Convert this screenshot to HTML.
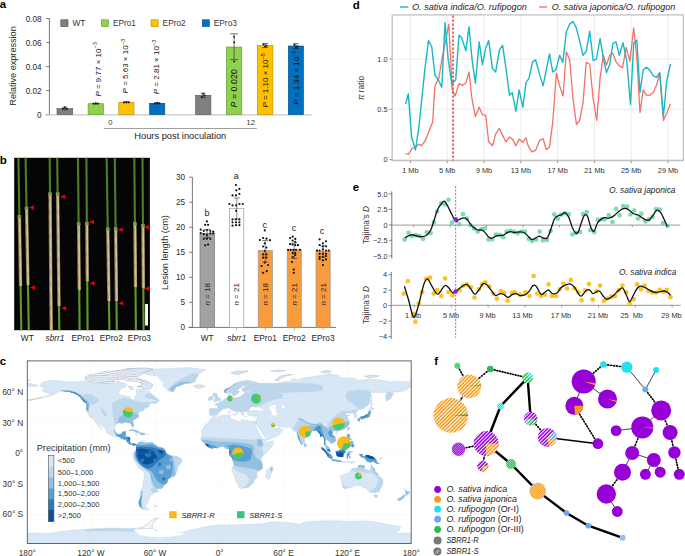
<!DOCTYPE html>
<html><head><meta charset="utf-8"><style>html,body{margin:0;padding:0;background:#fff;width:685px;height:556px;overflow:hidden;}svg{display:block;font-family:"Liberation Sans",sans-serif;}</style></head>
<body><svg width="685" height="556" viewBox="0 0 685 556" font-family="Liberation Sans, sans-serif">
<rect width="685" height="556" fill="#fff"/>
<text x="-0.3" y="8.4" font-size="11.5" text-anchor="start" fill="#000" font-weight="bold">a</text>
<line x1="49.4" y1="18.3" x2="49.4" y2="114.6" stroke="#555" stroke-width="0.8"/>
<line x1="46.199999999999996" y1="114.6" x2="49.4" y2="114.6" stroke="#555" stroke-width="0.8"/>
<text x="41.6" y="117.5" font-size="8.2" text-anchor="end" fill="#2a2a2a">0</text>
<line x1="46.199999999999996" y1="90.6" x2="49.4" y2="90.6" stroke="#555" stroke-width="0.8"/>
<text x="41.6" y="93.5" font-size="8.2" text-anchor="end" fill="#2a2a2a">0.02</text>
<line x1="46.199999999999996" y1="66.6" x2="49.4" y2="66.6" stroke="#555" stroke-width="0.8"/>
<text x="41.6" y="69.5" font-size="8.2" text-anchor="end" fill="#2a2a2a">0.04</text>
<line x1="46.199999999999996" y1="42.599999999999994" x2="49.4" y2="42.599999999999994" stroke="#555" stroke-width="0.8"/>
<text x="41.6" y="45.49999999999999" font-size="8.2" text-anchor="end" fill="#2a2a2a">0.06</text>
<line x1="46.199999999999996" y1="18.599999999999994" x2="49.4" y2="18.599999999999994" stroke="#555" stroke-width="0.8"/>
<text x="41.6" y="21.499999999999993" font-size="8.2" text-anchor="end" fill="#2a2a2a">0.08</text>
<line x1="45" y1="114.89999999999999" x2="311.5" y2="114.89999999999999" stroke="#c8c8c8" stroke-width="1.1"/>
<text x="16.0" y="66" font-size="9.1" text-anchor="middle" fill="#2a2a2a" transform="rotate(-90 16.0 66)">Relative expression</text>
<rect x="60.8" y="19.8" width="7.2" height="6.8" fill="#7f7f7f" stroke="#4d4d4d" stroke-width="0.6"/>
<text x="72.39999999999999" y="26.1" font-size="8.3" text-anchor="start" fill="#333">WT</text>
<rect x="101.3" y="19.8" width="7.2" height="6.8" fill="#8fd14f" stroke="#5b9a2e" stroke-width="0.6"/>
<text x="112.89999999999999" y="26.1" font-size="8.3" text-anchor="start" fill="#333">EPro1</text>
<rect x="151" y="19.8" width="7.2" height="6.8" fill="#ffc000" stroke="#b88a00" stroke-width="0.6"/>
<text x="162.6" y="26.1" font-size="8.3" text-anchor="start" fill="#333">EPro2</text>
<rect x="202.2" y="19.8" width="7.2" height="6.8" fill="#0070c0" stroke="#004c85" stroke-width="0.6"/>
<text x="213.79999999999998" y="26.1" font-size="8.3" text-anchor="start" fill="#333">EPro3</text>
<rect x="57" y="108.6" width="15.700000000000003" height="6.0" fill="#7f7f7f" stroke="#555" stroke-width="0.6"/>
<rect x="88.1" y="103.7" width="15.5" height="10.899999999999991" fill="#8fd14f" stroke="#5b9a2e" stroke-width="0.6"/>
<rect x="118.8" y="102.3" width="15.200000000000003" height="12.299999999999997" fill="#ffc000" stroke="#b88a00" stroke-width="0.6"/>
<rect x="149.5" y="103.3" width="15.300000000000011" height="11.299999999999997" fill="#0070c0" stroke="#004c85" stroke-width="0.6"/>
<rect x="195.6" y="95.3" width="15.300000000000011" height="19.299999999999997" fill="#7f7f7f" stroke="#555" stroke-width="0.6"/>
<rect x="226.3" y="47" width="15.5" height="67.6" fill="#8fd14f" stroke="#5b9a2e" stroke-width="0.6"/>
<rect x="257.3" y="45.5" width="15.599999999999966" height="69.1" fill="#ffc000" stroke="#b88a00" stroke-width="0.6"/>
<rect x="288.3" y="46" width="15.199999999999989" height="68.6" fill="#0070c0" stroke="#004c85" stroke-width="0.6"/>
<line x1="64.8" y1="107.2" x2="64.8" y2="109.8" stroke="#222" stroke-width="0.6"/><line x1="62.3" y1="107.2" x2="67.3" y2="107.2" stroke="#222" stroke-width="0.6"/><line x1="62.3" y1="109.8" x2="67.3" y2="109.8" stroke="#222" stroke-width="0.6"/><circle cx="62.8" cy="108.6" r="0.95" fill="#111"/><circle cx="64.8" cy="107.3" r="0.95" fill="#111"/><circle cx="66.8" cy="108.8" r="0.95" fill="#111"/>
<line x1="95.8" y1="103.2" x2="95.8" y2="104.2" stroke="#222" stroke-width="0.6"/><line x1="93.3" y1="103.2" x2="98.3" y2="103.2" stroke="#222" stroke-width="0.6"/><line x1="93.3" y1="104.2" x2="98.3" y2="104.2" stroke="#222" stroke-width="0.6"/><circle cx="93.3" cy="103.6" r="0.95" fill="#111"/><circle cx="95.8" cy="103.3" r="0.95" fill="#111"/><circle cx="98.3" cy="103.6" r="0.95" fill="#111"/>
<line x1="126.4" y1="101.8" x2="126.4" y2="102.8" stroke="#222" stroke-width="0.6"/><line x1="123.9" y1="101.8" x2="128.9" y2="101.8" stroke="#222" stroke-width="0.6"/><line x1="123.9" y1="102.8" x2="128.9" y2="102.8" stroke="#222" stroke-width="0.6"/><circle cx="123.9" cy="102.2" r="0.95" fill="#111"/><circle cx="126.4" cy="101.9" r="0.95" fill="#111"/><circle cx="128.9" cy="102.2" r="0.95" fill="#111"/>
<line x1="157.1" y1="102.6" x2="157.1" y2="104" stroke="#222" stroke-width="0.6"/><line x1="154.6" y1="102.6" x2="159.6" y2="102.6" stroke="#222" stroke-width="0.6"/><line x1="154.6" y1="104" x2="159.6" y2="104" stroke="#222" stroke-width="0.6"/><circle cx="154.6" cy="103.5" r="0.95" fill="#111"/><circle cx="157.1" cy="102.8" r="0.95" fill="#111"/><circle cx="159.6" cy="103.2" r="0.95" fill="#111"/>
<line x1="203.2" y1="93.2" x2="203.2" y2="97.6" stroke="#222" stroke-width="0.6"/><line x1="200.7" y1="93.2" x2="205.7" y2="93.2" stroke="#222" stroke-width="0.6"/><line x1="200.7" y1="97.6" x2="205.7" y2="97.6" stroke="#222" stroke-width="0.6"/><circle cx="201.7" cy="97" r="0.95" fill="#111"/><circle cx="203.2" cy="93.8" r="0.95" fill="#111"/><circle cx="204.7" cy="95.5" r="0.95" fill="#111"/>
<line x1="234.1" y1="33.8" x2="234.1" y2="59.6" stroke="#222" stroke-width="0.6"/><line x1="230.1" y1="33.8" x2="238.1" y2="33.8" stroke="#222" stroke-width="0.6"/><line x1="230.1" y1="59.6" x2="238.1" y2="59.6" stroke="#222" stroke-width="0.6"/><circle cx="234.1" cy="36.9" r="0.95" fill="#111"/><circle cx="234.1" cy="42.4" r="0.95" fill="#111"/><circle cx="234.1" cy="61.4" r="0.95" fill="#111"/>
<line x1="265.1" y1="43.5" x2="265.1" y2="47.5" stroke="#222" stroke-width="0.6"/><line x1="262.1" y1="43.5" x2="268.1" y2="43.5" stroke="#222" stroke-width="0.6"/><line x1="262.1" y1="47.5" x2="268.1" y2="47.5" stroke="#222" stroke-width="0.6"/><circle cx="263.6" cy="44.5" r="0.95" fill="#111"/><circle cx="265.1" cy="46.6" r="0.95" fill="#111"/><circle cx="266.6" cy="45.5" r="0.95" fill="#111"/>
<line x1="295.9" y1="43.6" x2="295.9" y2="48.5" stroke="#222" stroke-width="0.6"/><line x1="292.9" y1="43.6" x2="298.9" y2="43.6" stroke="#222" stroke-width="0.6"/><line x1="292.9" y1="48.5" x2="298.9" y2="48.5" stroke="#222" stroke-width="0.6"/><circle cx="294.4" cy="45" r="0.95" fill="#111"/><circle cx="295.9" cy="47.5" r="0.95" fill="#111"/><circle cx="297.4" cy="46.4" r="0.95" fill="#111"/>
<text x="100.6" y="96.6" font-size="8.0" fill="#111" transform="rotate(-90 100.6 96.6)"><tspan font-style="italic">P</tspan> = 9.77 × 10<tspan font-size="5.76" dy="-3.2">−3</tspan></text>
<text x="128.2" y="93.4" font-size="8.0" fill="#111" transform="rotate(-90 128.2 93.4)"><tspan font-style="italic">P</tspan> = 5.63 × 10<tspan font-size="5.76" dy="-3.2">−3</tspan></text>
<text x="159.3" y="94.2" font-size="8.0" fill="#111" transform="rotate(-90 159.3 94.2)"><tspan font-style="italic">P</tspan> = 2.81 × 10<tspan font-size="5.76" dy="-3.2">−3</tspan></text>
<text x="237.2" y="107.4" font-size="8.9" fill="#111" transform="rotate(-90 237.2 107.4)"><tspan font-style="italic">P</tspan> = 0.020</text>
<text x="268.1" y="107.6" font-size="8.0" fill="#111" transform="rotate(-90 268.1 107.6)"><tspan font-style="italic">P</tspan> = 1.10 × 10<tspan font-size="5.76" dy="-3.2">−5</tspan></text>
<text x="299.2" y="104.8" font-size="8.0" fill="#111" transform="rotate(-90 299.2 104.8)"><tspan font-style="italic">P</tspan> = 1.34 × 10<tspan font-size="5.76" dy="-3.2">−5</tspan></text>
<text x="110.3" y="124.6" font-size="7.6" text-anchor="middle" fill="#333">0</text>
<text x="250.8" y="124.6" font-size="7.6" text-anchor="middle" fill="#333">12</text>
<line x1="103.7" y1="128.5" x2="256.8" y2="128.5" stroke="#888" stroke-width="0.8"/>
<text x="180.3" y="139" font-size="9.3" text-anchor="middle" fill="#222">Hours post inoculation</text>
<text x="-0.3" y="163.9" font-size="11.5" text-anchor="start" fill="#000" font-weight="bold">b</text>
<rect x="14.2" y="157.8" width="135.7" height="172.4" fill="#050505"/>
<line x1="18.4" y1="157.8" x2="19.387412993039444" y2="216.5" stroke="#4a8028" stroke-width="2.1"/>
<line x1="19.387412993039444" y1="216.5" x2="20.556496519721577" y2="286" stroke="#8f7a50" stroke-width="3.3"/>
<line x1="19.587412993039443" y1="217.5" x2="20.756496519721576" y2="286" stroke="#cdc3a0" stroke-width="1.9"/>
<line x1="18.787412993039442" y1="220.5" x2="19.956496519721576" y2="286" stroke="#9a8458" stroke-width="0.7" stroke-dasharray="5 7" opacity="0.9"/>
<rect x="17.587412993039443" y="215.0" width="3.6" height="3.5" fill="#7a9a48"/>
<line x1="20.556496519721577" y1="286" x2="21.3" y2="330.2" stroke="#5f9a2e" stroke-width="2.1"/>
<line x1="25.6" y1="157.8" x2="26.531786542923435" y2="208" stroke="#4a8028" stroke-width="2.1"/>
<line x1="26.531786542923435" y1="208" x2="27.961020881670535" y2="285" stroke="#8f7a50" stroke-width="3.3"/>
<line x1="26.731786542923434" y1="209" x2="28.161020881670535" y2="285" stroke="#cdc3a0" stroke-width="1.9"/>
<line x1="25.931786542923433" y1="212" x2="27.361020881670534" y2="285" stroke="#9a8458" stroke-width="0.7" stroke-dasharray="5 7" opacity="0.9"/>
<rect x="24.731786542923434" y="206.5" width="3.6" height="3.5" fill="#7a9a48"/>
<line x1="27.961020881670535" y1="285" x2="28.8" y2="330.2" stroke="#5f9a2e" stroke-width="2.1"/>
<line x1="49.7" y1="157.8" x2="50.01322505800464" y2="193.8" stroke="#4a8028" stroke-width="2.1"/>
<line x1="50.01322505800464" y1="193.8" x2="51.2" y2="330.2" stroke="#8f7a50" stroke-width="3.3"/>
<line x1="50.213225058004646" y1="194.8" x2="51.400000000000006" y2="330.2" stroke="#cdc3a0" stroke-width="1.9"/>
<line x1="49.41322505800464" y1="197.8" x2="50.6" y2="330.2" stroke="#9a8458" stroke-width="0.7" stroke-dasharray="5 7" opacity="0.9"/>
<rect x="48.213225058004646" y="192.3" width="3.6" height="3.5" fill="#7a9a48"/>
<line x1="57.2" y1="157.8" x2="57.6385150812065" y2="193.8" stroke="#4a8028" stroke-width="2.1"/>
<line x1="57.6385150812065" y1="193.8" x2="59.00522041763341" y2="306" stroke="#8f7a50" stroke-width="3.3"/>
<line x1="57.8385150812065" y1="194.8" x2="59.20522041763341" y2="306" stroke="#cdc3a0" stroke-width="1.9"/>
<line x1="57.0385150812065" y1="197.8" x2="58.40522041763341" y2="306" stroke="#9a8458" stroke-width="0.7" stroke-dasharray="5 7" opacity="0.9"/>
<rect x="55.8385150812065" y="192.3" width="3.6" height="3.5" fill="#7a9a48"/>
<line x1="59.00522041763341" y1="306" x2="59.3" y2="330.2" stroke="#5f9a2e" stroke-width="2.1"/>
<line x1="78.0" y1="157.8" x2="78.61160092807424" y2="223.7" stroke="#4a8028" stroke-width="2.1"/>
<line x1="78.61160092807424" y1="223.7" x2="79.22691415313224" y2="290" stroke="#8f7a50" stroke-width="3.3"/>
<line x1="78.81160092807424" y1="224.7" x2="79.42691415313224" y2="290" stroke="#cdc3a0" stroke-width="1.9"/>
<line x1="78.01160092807424" y1="227.7" x2="78.62691415313225" y2="290" stroke="#9a8458" stroke-width="0.7" stroke-dasharray="5 7" opacity="0.9"/>
<rect x="76.81160092807424" y="222.2" width="3.6" height="3.5" fill="#7a9a48"/>
<line x1="79.22691415313224" y1="290" x2="79.6" y2="330.2" stroke="#5f9a2e" stroke-width="2.1"/>
<line x1="86.4" y1="157.8" x2="86.85730858468678" y2="223.5" stroke="#4a8028" stroke-width="2.1"/>
<line x1="86.85730858468678" y1="223.5" x2="87.26102088167053" y2="281.5" stroke="#8f7a50" stroke-width="3.3"/>
<line x1="87.05730858468678" y1="224.5" x2="87.46102088167054" y2="281.5" stroke="#cdc3a0" stroke-width="1.9"/>
<line x1="86.25730858468678" y1="227.5" x2="86.66102088167054" y2="281.5" stroke="#9a8458" stroke-width="0.7" stroke-dasharray="5 7" opacity="0.9"/>
<rect x="85.05730858468678" y="222.0" width="3.6" height="3.5" fill="#7a9a48"/>
<line x1="87.26102088167053" y1="281.5" x2="87.6" y2="330.2" stroke="#5f9a2e" stroke-width="2.1"/>
<line x1="106.6" y1="157.8" x2="107.75638051044083" y2="229" stroke="#4a8028" stroke-width="2.1"/>
<line x1="107.75638051044083" y1="229" x2="108.92575406032483" y2="301" stroke="#8f7a50" stroke-width="3.3"/>
<line x1="107.95638051044084" y1="230" x2="109.12575406032484" y2="301" stroke="#cdc3a0" stroke-width="1.9"/>
<line x1="107.15638051044084" y1="233" x2="108.32575406032484" y2="301" stroke="#9a8458" stroke-width="0.7" stroke-dasharray="5 7" opacity="0.9"/>
<rect x="105.95638051044084" y="227.5" width="3.6" height="3.5" fill="#7a9a48"/>
<line x1="108.92575406032483" y1="301" x2="109.4" y2="330.2" stroke="#5f9a2e" stroke-width="2.1"/>
<line x1="114.8" y1="157.8" x2="115.62134570765662" y2="228.6" stroke="#4a8028" stroke-width="2.1"/>
<line x1="115.62134570765662" y1="228.6" x2="116.46125290023201" y2="301" stroke="#8f7a50" stroke-width="3.3"/>
<line x1="115.82134570765662" y1="229.6" x2="116.66125290023201" y2="301" stroke="#cdc3a0" stroke-width="1.9"/>
<line x1="115.02134570765662" y1="232.6" x2="115.86125290023202" y2="301" stroke="#9a8458" stroke-width="0.7" stroke-dasharray="5 7" opacity="0.9"/>
<rect x="113.82134570765662" y="227.1" width="3.6" height="3.5" fill="#7a9a48"/>
<line x1="116.46125290023201" y1="301" x2="116.8" y2="330.2" stroke="#5f9a2e" stroke-width="2.1"/>
<line x1="134.3" y1="157.8" x2="134.90974477958238" y2="223.5" stroke="#4a8028" stroke-width="2.1"/>
<line x1="134.90974477958238" y1="223.5" x2="135.49907192575407" y2="287" stroke="#8f7a50" stroke-width="3.3"/>
<line x1="135.10974477958237" y1="224.5" x2="135.69907192575405" y2="287" stroke="#cdc3a0" stroke-width="1.9"/>
<line x1="134.3097447795824" y1="227.5" x2="134.89907192575407" y2="287" stroke="#9a8458" stroke-width="0.7" stroke-dasharray="5 7" opacity="0.9"/>
<rect x="133.10974477958237" y="222.0" width="3.6" height="3.5" fill="#7a9a48"/>
<line x1="135.49907192575407" y1="287" x2="135.9" y2="330.2" stroke="#5f9a2e" stroke-width="2.1"/>
<line x1="142.5" y1="157.8" x2="142.93196055684456" y2="225.5" stroke="#4a8028" stroke-width="2.1"/>
<line x1="142.93196055684456" y1="225.5" x2="143.33457076566125" y2="288.6" stroke="#8f7a50" stroke-width="3.3"/>
<line x1="143.13196055684455" y1="226.5" x2="143.53457076566124" y2="288.6" stroke="#cdc3a0" stroke-width="1.9"/>
<line x1="142.33196055684456" y1="229.5" x2="142.73457076566126" y2="288.6" stroke="#9a8458" stroke-width="0.7" stroke-dasharray="5 7" opacity="0.9"/>
<rect x="141.13196055684455" y="224.0" width="3.6" height="3.5" fill="#7a9a48"/>
<line x1="143.33457076566125" y1="288.6" x2="143.6" y2="330.2" stroke="#5f9a2e" stroke-width="2.1"/>
<polygon points="29.1,207.6 33.9,205.29999999999998 33.9,209.9" fill="#ee0000"/>
<polygon points="60.4,196.8 65.2,194.5 65.2,199.10000000000002" fill="#ee0000"/>
<polygon points="89.1,222.0 93.9,219.7 93.9,224.3" fill="#ee0000"/>
<polygon points="117.89999999999999,229.7 122.7,227.39999999999998 122.7,232.0" fill="#ee0000"/>
<polygon points="144.2,227.2 149.0,224.89999999999998 149.0,229.5" fill="#ee0000"/>
<polygon points="30.200000000000003,287.6 35.0,285.3 35.0,289.90000000000003" fill="#ee0000"/>
<polygon points="61.4,308.2 66.2,305.9 66.2,310.5" fill="#ee0000"/>
<polygon points="89.8,283.3 94.60000000000001,281.0 94.60000000000001,285.6" fill="#ee0000"/>
<polygon points="118.5,303.2 123.30000000000001,300.9 123.30000000000001,305.5" fill="#ee0000"/>
<polygon points="144.4,288.6 149.20000000000002,286.3 149.20000000000002,290.90000000000003" fill="#ee0000"/>
<rect x="145.1" y="304" width="2.9" height="21.5" fill="#fff"/>
<text x="27.3" y="341.3" font-size="8.3" text-anchor="middle" fill="#222">WT</text>
<text x="55" y="341.3" font-size="8.3" text-anchor="middle" fill="#222" font-style="italic">sbrr1</text>
<text x="83" y="341.3" font-size="8.3" text-anchor="middle" fill="#222">EPro1</text>
<text x="111.3" y="341.3" font-size="8.3" text-anchor="middle" fill="#222">EPro2</text>
<text x="139.4" y="341.3" font-size="8.3" text-anchor="middle" fill="#222">EPro3</text>
<line x1="192.4" y1="177.2" x2="192.4" y2="327.4" stroke="#555" stroke-width="0.8"/>
<line x1="189.20000000000002" y1="327.4" x2="192.4" y2="327.4" stroke="#555" stroke-width="0.8"/>
<text x="185.0" y="330.29999999999995" font-size="8.2" text-anchor="end" fill="#2a2a2a">0</text>
<line x1="189.20000000000002" y1="302.3666666666667" x2="192.4" y2="302.3666666666667" stroke="#555" stroke-width="0.8"/>
<text x="185.0" y="305.26666666666665" font-size="8.2" text-anchor="end" fill="#2a2a2a">5</text>
<line x1="189.20000000000002" y1="277.3333333333333" x2="192.4" y2="277.3333333333333" stroke="#555" stroke-width="0.8"/>
<text x="185.0" y="280.2333333333333" font-size="8.2" text-anchor="end" fill="#2a2a2a">10</text>
<line x1="189.20000000000002" y1="252.29999999999998" x2="192.4" y2="252.29999999999998" stroke="#555" stroke-width="0.8"/>
<text x="185.0" y="255.2" font-size="8.2" text-anchor="end" fill="#2a2a2a">15</text>
<line x1="189.20000000000002" y1="227.26666666666665" x2="192.4" y2="227.26666666666665" stroke="#555" stroke-width="0.8"/>
<text x="185.0" y="230.16666666666666" font-size="8.2" text-anchor="end" fill="#2a2a2a">20</text>
<line x1="189.20000000000002" y1="202.23333333333335" x2="192.4" y2="202.23333333333335" stroke="#555" stroke-width="0.8"/>
<text x="185.0" y="205.13333333333335" font-size="8.2" text-anchor="end" fill="#2a2a2a">25</text>
<line x1="189.20000000000002" y1="177.2" x2="192.4" y2="177.2" stroke="#555" stroke-width="0.8"/>
<text x="185.0" y="180.1" font-size="8.2" text-anchor="end" fill="#2a2a2a">30</text>
<line x1="188.4" y1="327.4" x2="336" y2="327.4" stroke="#666" stroke-width="0.9"/>
<line x1="207.2" y1="327.4" x2="207.2" y2="330.4" stroke="#777" stroke-width="0.6"/>
<line x1="236.6" y1="327.4" x2="236.6" y2="330.4" stroke="#777" stroke-width="0.6"/>
<line x1="265.3" y1="327.4" x2="265.3" y2="330.4" stroke="#777" stroke-width="0.6"/>
<line x1="294.2" y1="327.4" x2="294.2" y2="330.4" stroke="#777" stroke-width="0.6"/>
<line x1="323" y1="327.4" x2="323" y2="330.4" stroke="#777" stroke-width="0.6"/>
<text x="167.6" y="252.5" font-size="9.1" text-anchor="middle" fill="#2a2a2a" transform="rotate(-90 167.6 252.5)">Lesion length (cm)</text>
<rect x="200" y="233.5" width="14.5" height="93.89999999999998" fill="#a2a2a2" stroke="#777" stroke-width="0.7"/>
<rect x="229.6" y="208.3" width="14.200000000000017" height="119.09999999999997" fill="#ffffff" stroke="#9a9a9a" stroke-width="0.7"/>
<rect x="258.2" y="250.5" width="14.300000000000011" height="76.89999999999998" fill="#f89b3c" stroke="#999" stroke-width="0.7"/>
<rect x="287.2" y="249.8" width="14.100000000000023" height="77.59999999999997" fill="#f89b3c" stroke="#999" stroke-width="0.7"/>
<rect x="316.0" y="251.3" width="14.199999999999989" height="76.09999999999997" fill="#f89b3c" stroke="#999" stroke-width="0.7"/>
<circle cx="206.9" cy="221.4" r="1.1" fill="#111"/>
<circle cx="205.2" cy="224.8" r="1.1" fill="#111"/>
<circle cx="208.1" cy="224.8" r="1.1" fill="#111"/>
<circle cx="200.7" cy="229.6" r="1.1" fill="#111"/>
<circle cx="203.8" cy="230.8" r="1.1" fill="#111"/>
<circle cx="206.9" cy="230" r="1.1" fill="#111"/>
<circle cx="210.3" cy="230.8" r="1.1" fill="#111"/>
<circle cx="213.2" cy="231.7" r="1.1" fill="#111"/>
<circle cx="200.7" cy="233" r="1.1" fill="#111"/>
<circle cx="203.8" cy="234.2" r="1.1" fill="#111"/>
<circle cx="206.9" cy="235.1" r="1.1" fill="#111"/>
<circle cx="210.3" cy="233.4" r="1.1" fill="#111"/>
<circle cx="213.2" cy="233.4" r="1.1" fill="#111"/>
<circle cx="203.8" cy="238.8" r="1.1" fill="#111"/>
<circle cx="206.9" cy="238.8" r="1.1" fill="#111"/>
<circle cx="210.3" cy="238.8" r="1.1" fill="#111"/>
<circle cx="205.2" cy="245.3" r="1.1" fill="#111"/>
<circle cx="208.1" cy="244.5" r="1.1" fill="#111"/>
<circle cx="236" cy="185" r="1.1" fill="#111"/>
<circle cx="239.4" cy="188.9" r="1.1" fill="#111"/>
<circle cx="236.3" cy="190.3" r="1.1" fill="#111"/>
<circle cx="239.4" cy="194" r="1.1" fill="#111"/>
<circle cx="232.5" cy="195.4" r="1.1" fill="#111"/>
<circle cx="236" cy="195.4" r="1.1" fill="#111"/>
<circle cx="229.4" cy="204" r="1.1" fill="#111"/>
<circle cx="232.5" cy="205.3" r="1.1" fill="#111"/>
<circle cx="236" cy="205.3" r="1.1" fill="#111"/>
<circle cx="239.4" cy="204" r="1.1" fill="#111"/>
<circle cx="242.8" cy="204" r="1.1" fill="#111"/>
<circle cx="236" cy="210.8" r="1.1" fill="#111"/>
<circle cx="232.5" cy="219.4" r="1.1" fill="#111"/>
<circle cx="236" cy="219.4" r="1.1" fill="#111"/>
<circle cx="239.4" cy="219.4" r="1.1" fill="#111"/>
<circle cx="232.5" cy="222.3" r="1.1" fill="#111"/>
<circle cx="236" cy="222.3" r="1.1" fill="#111"/>
<circle cx="239.4" cy="222.3" r="1.1" fill="#111"/>
<circle cx="232.5" cy="225.7" r="1.1" fill="#111"/>
<circle cx="236" cy="225.2" r="1.1" fill="#111"/>
<circle cx="239.4" cy="225.2" r="1.1" fill="#111"/>
<circle cx="264.8" cy="230.4" r="1.1" fill="#111"/>
<circle cx="259.9" cy="240" r="1.1" fill="#111"/>
<circle cx="263.1" cy="238" r="1.1" fill="#111"/>
<circle cx="266.4" cy="238.7" r="1.1" fill="#111"/>
<circle cx="270" cy="240.2" r="1.1" fill="#111"/>
<circle cx="264.8" cy="243.3" r="1.1" fill="#111"/>
<circle cx="263.1" cy="246.5" r="1.1" fill="#111"/>
<circle cx="266.4" cy="247.6" r="1.1" fill="#111"/>
<circle cx="263.1" cy="254.4" r="1.1" fill="#111"/>
<circle cx="266.4" cy="254.4" r="1.1" fill="#111"/>
<circle cx="263.1" cy="257.7" r="1.1" fill="#111"/>
<circle cx="266.4" cy="257.7" r="1.1" fill="#111"/>
<circle cx="264.8" cy="262.6" r="1.1" fill="#111"/>
<circle cx="263.1" cy="272.8" r="1.1" fill="#111"/>
<circle cx="266.7" cy="271.2" r="1.1" fill="#111"/>
<circle cx="261.5" cy="266" r="1.1" fill="#111"/>
<circle cx="268" cy="265" r="1.1" fill="#111"/>
<circle cx="264.8" cy="251" r="1.1" fill="#111"/>
<circle cx="292.7" cy="236.7" r="1.1" fill="#111"/>
<circle cx="290.1" cy="238" r="1.1" fill="#111"/>
<circle cx="295.3" cy="238.9" r="1.1" fill="#111"/>
<circle cx="292.7" cy="240.6" r="1.1" fill="#111"/>
<circle cx="295.3" cy="241.9" r="1.1" fill="#111"/>
<circle cx="290.1" cy="244.2" r="1.1" fill="#111"/>
<circle cx="292.7" cy="244.6" r="1.1" fill="#111"/>
<circle cx="295.3" cy="245.2" r="1.1" fill="#111"/>
<circle cx="298" cy="245.2" r="1.1" fill="#111"/>
<circle cx="288.1" cy="249.8" r="1.1" fill="#111"/>
<circle cx="290.7" cy="249.8" r="1.1" fill="#111"/>
<circle cx="293.4" cy="249.8" r="1.1" fill="#111"/>
<circle cx="296" cy="249.8" r="1.1" fill="#111"/>
<circle cx="299.9" cy="249.8" r="1.1" fill="#111"/>
<circle cx="292.7" cy="253.1" r="1.1" fill="#111"/>
<circle cx="295.3" cy="253.1" r="1.1" fill="#111"/>
<circle cx="292.7" cy="257" r="1.1" fill="#111"/>
<circle cx="295.3" cy="255.1" r="1.1" fill="#111"/>
<circle cx="293.8" cy="269.5" r="1.1" fill="#111"/>
<circle cx="293.8" cy="272.8" r="1.1" fill="#111"/>
<circle cx="292" cy="262" r="1.1" fill="#111"/>
<circle cx="319.6" cy="239.3" r="1.1" fill="#111"/>
<circle cx="322.9" cy="243.3" r="1.1" fill="#111"/>
<circle cx="326" cy="241.3" r="1.1" fill="#111"/>
<circle cx="319.6" cy="245" r="1.1" fill="#111"/>
<circle cx="322.9" cy="246.3" r="1.1" fill="#111"/>
<circle cx="326" cy="246.3" r="1.1" fill="#111"/>
<circle cx="317" cy="250.5" r="1.1" fill="#111"/>
<circle cx="319.6" cy="250.5" r="1.1" fill="#111"/>
<circle cx="322.9" cy="249.4" r="1.1" fill="#111"/>
<circle cx="326" cy="250.5" r="1.1" fill="#111"/>
<circle cx="328.8" cy="250.5" r="1.1" fill="#111"/>
<circle cx="319.6" cy="253.8" r="1.1" fill="#111"/>
<circle cx="322.9" cy="253.8" r="1.1" fill="#111"/>
<circle cx="326" cy="253.8" r="1.1" fill="#111"/>
<circle cx="319.6" cy="257" r="1.1" fill="#111"/>
<circle cx="322.9" cy="257" r="1.1" fill="#111"/>
<circle cx="326" cy="256" r="1.1" fill="#111"/>
<circle cx="322.9" cy="260.3" r="1.1" fill="#111"/>
<circle cx="319.6" cy="259" r="1.1" fill="#111"/>
<circle cx="322.9" cy="265" r="1.1" fill="#111"/>
<circle cx="326" cy="259.4" r="1.1" fill="#111"/>
<line x1="207.2" y1="229.5" x2="207.2" y2="237.5" stroke="#333" stroke-width="0.6"/>
<line x1="204.2" y1="229.5" x2="210.2" y2="229.5" stroke="#333" stroke-width="0.6"/>
<line x1="204.2" y1="237.5" x2="210.2" y2="237.5" stroke="#333" stroke-width="0.6"/>
<line x1="236.8" y1="198" x2="236.8" y2="219" stroke="#333" stroke-width="0.6"/>
<line x1="233.8" y1="198" x2="239.8" y2="198" stroke="#333" stroke-width="0.6"/>
<line x1="233.8" y1="219" x2="239.8" y2="219" stroke="#333" stroke-width="0.6"/>
<line x1="265.2" y1="240.5" x2="265.2" y2="262" stroke="#333" stroke-width="0.6"/>
<line x1="262.2" y1="240.5" x2="268.2" y2="240.5" stroke="#333" stroke-width="0.6"/>
<line x1="262.2" y1="262" x2="268.2" y2="262" stroke="#333" stroke-width="0.6"/>
<line x1="294.2" y1="243" x2="294.2" y2="258.5" stroke="#333" stroke-width="0.6"/>
<line x1="291.2" y1="243" x2="297.2" y2="243" stroke="#333" stroke-width="0.6"/>
<line x1="291.2" y1="258.5" x2="297.2" y2="258.5" stroke="#333" stroke-width="0.6"/>
<line x1="323" y1="246" x2="323" y2="257" stroke="#333" stroke-width="0.6"/>
<line x1="320" y1="246" x2="326" y2="246" stroke="#333" stroke-width="0.6"/>
<line x1="320" y1="257" x2="326" y2="257" stroke="#333" stroke-width="0.6"/>
<text x="207" y="216" font-size="9" text-anchor="middle" fill="#222">b</text>
<text x="236.3" y="178.6" font-size="9" text-anchor="middle" fill="#222">a</text>
<text x="264.8" y="228" font-size="9" text-anchor="middle" fill="#222">c</text>
<text x="294" y="231.3" font-size="9" text-anchor="middle" fill="#222">c</text>
<text x="322" y="233.6" font-size="9" text-anchor="middle" fill="#222">c</text>
<text x="209.9" y="305.6" font-size="8" fill="#222" transform="rotate(-90 209.9 305.6)"><tspan font-style="italic">n</tspan> = 18</text>
<text x="239.5" y="305.6" font-size="8" fill="#222" transform="rotate(-90 239.5 305.6)"><tspan font-style="italic">n</tspan> = 21</text>
<text x="268.2" y="305.6" font-size="8" fill="#222" transform="rotate(-90 268.2 305.6)"><tspan font-style="italic">n</tspan> = 18</text>
<text x="297" y="305.6" font-size="8" fill="#222" transform="rotate(-90 297 305.6)"><tspan font-style="italic">n</tspan> = 21</text>
<text x="325.9" y="305.6" font-size="8" fill="#222" transform="rotate(-90 325.9 305.6)"><tspan font-style="italic">n</tspan> = 21</text>
<text x="207.2" y="341.3" font-size="8.3" text-anchor="middle" fill="#222">WT</text>
<text x="236.8" y="341.3" font-size="8.3" text-anchor="middle" fill="#222" font-style="italic">sbrr1</text>
<text x="265.3" y="341.3" font-size="8.3" text-anchor="middle" fill="#222">EPro1</text>
<text x="294.2" y="341.3" font-size="8.3" text-anchor="middle" fill="#222">EPro2</text>
<text x="323" y="341.3" font-size="8.3" text-anchor="middle" fill="#222">EPro3</text>
<text x="-0.3" y="365.3" font-size="11.5" text-anchor="start" fill="#000" font-weight="bold">c</text>
<defs><clipPath id="mapclip"><rect x="27.3" y="360.9" width="383.9" height="182.6"/></clipPath></defs>
<g clip-path="url(#mapclip)">
<polygon points="39.8,385.9 41.9,382.6 47.3,381.1 52.6,380.1 59.0,380.9 68.6,381.8 75.0,382.0 82.5,381.2 90.0,381.8 96.4,382.9 103.9,383.3 112.4,383.7 116.7,383.0 118.8,381.9 123.1,382.6 125.2,383.5 127.4,384.5 126.3,386.0 124.1,387.6 120.9,389.1 118.3,392.7 120.4,394.7 125.2,395.8 129.5,396.6 131.3,398.8 133.8,400.4 134.8,397.3 137.0,393.2 135.9,389.3 141.2,389.4 144.4,390.6 149.8,391.7 151.4,394.2 154.1,395.8 157.8,398.8 159.6,400.1 156.2,403.4 150.3,402.9 148.7,407.0 144.4,408.5 143.9,410.3 140.2,411.6 138.0,413.7 138.6,417.0 135.9,418.5 132.7,420.8 133.8,425.5 133.3,427.3 131.8,426.0 130.8,423.4 128.4,422.7 124.1,422.1 123.1,423.4 118.8,422.8 115.3,424.9 115.0,428.5 114.7,430.6 116.7,433.6 118.3,434.5 122.0,433.6 122.5,431.6 126.3,431.1 125.7,434.7 124.7,436.7 129.5,436.9 130.2,438.3 129.9,441.8 131.6,443.9 134.3,443.4 136.4,444.4 136.3,445.4 135.4,445.1 133.2,445.4 130.0,444.4 127.7,442.9 125.7,439.8 122.0,438.9 118.8,436.7 116.1,437.0 111.3,435.4 106.5,432.6 106.5,430.1 103.9,427.0 100.7,424.6 98.7,421.9 96.6,420.5 98.5,423.4 100.1,426.5 101.7,428.5 102.3,429.5 99.6,427.5 96.9,424.4 95.3,421.9 94.1,419.8 92.6,418.3 90.4,417.7 88.4,414.7 86.8,411.6 86.2,409.1 86.8,405.7 86.0,403.5 87.8,402.9 83.6,401.4 80.4,397.3 77.2,394.7 72.9,392.7 69.7,391.9 65.4,391.7 61.1,391.1 57.4,392.2 54.7,394.2 50.5,395.8 46.2,396.8 43.5,397.3 48.3,395.2 51.5,393.2 46.2,393.0 43.0,391.1 43.0,389.1 43.5,388.3 47.3,387.3 41.9,386.9" fill="#d8e7f5" stroke="#b4c2cf" stroke-width="0.3"/>
<polygon points="141.2,372.7 148.7,370.7 155.1,369.1 171.1,368.4 187.2,367.6 195.7,368.3 206.4,369.6 203.2,371.2 200.0,373.2 198.9,374.3 197.8,376.3 195.7,379.4 195.7,380.9 192.5,383.0 185.0,383.5 179.7,386.0 176.5,386.5 173.3,391.7 171.1,391.1 167.9,390.6 165.8,388.6 163.7,386.5 162.6,384.0 164.7,381.9 161.5,380.9 160.5,379.4 157.3,375.8 148.7,375.1 141.2,373.2" fill="#d8e7f5" stroke="#b4c2cf" stroke-width="0.3"/>
<polygon points="27.0,382.5 32.3,384.1 35.5,384.6 38.0,385.5 36.6,386.0 34.4,387.3 31.2,386.5 28.6,386.2 27.0,386.5" fill="#d8e7f5" stroke="#b4c2cf" stroke-width="0.3"/>
<polygon points="136.4,444.4 138.0,443.4 138.6,442.3 140.2,441.5 142.3,440.4 143.4,441.8 144.4,440.6 146.6,442.3 150.8,442.1 153.0,442.2 154.1,444.4 156.2,444.9 158.3,447.0 161.5,447.2 164.2,448.7 165.8,451.4 165.8,453.1 167.4,454.1 171.7,455.7 176.5,456.0 179.7,458.0 181.6,458.7 181.8,461.8 179.7,464.4 177.8,466.9 177.5,471.0 175.9,474.1 174.3,476.5 171.7,476.9 167.4,479.7 167.2,482.3 164.7,484.8 162.6,487.7 160.5,488.9 157.3,488.4 158.3,490.5 157.8,492.0 153.0,493.0 152.7,494.8 149.8,495.1 150.3,496.6 149.2,499.2 147.1,500.7 148.7,502.3 146.0,504.3 145.5,506.3 146.3,507.7 149.2,509.4 146.6,509.9 143.4,509.4 139.6,506.9 138.6,502.3 140.2,498.2 140.7,495.6 140.7,491.0 142.7,486.9 142.9,483.8 143.9,478.7 144.2,472.0 142.3,470.5 138.0,467.4 135.9,463.3 134.3,460.3 132.5,458.5 133.2,456.7 133.8,455.7 132.7,454.1 133.8,452.1 135.0,451.6 136.4,449.0 136.6,446.4 136.1,445.4" fill="#d8e7f5" stroke="#b4c2cf" stroke-width="0.3"/>
<polygon points="209.6,413.4 209.1,409.1 210.7,408.4 217.1,408.7 217.6,406.0 214.4,404.2 217.6,403.2 220.8,401.7 223.5,400.4 224.5,398.8 228.3,398.0 228.0,396.3 228.2,394.7 230.4,394.0 230.4,395.8 232.0,397.3 234.2,397.8 239.0,397.0 241.6,396.3 241.6,394.7 244.8,394.4 244.3,392.5 249.1,392.2 251.2,391.7 249.1,391.1 243.8,391.7 242.2,390.6 242.2,388.6 246.4,386.5 242.7,385.7 241.6,387.6 238.4,389.1 237.4,390.6 239.5,391.7 238.4,392.7 236.8,394.7 234.7,395.8 233.1,396.3 232.5,395.2 231.7,393.7 230.4,392.5 227.7,393.5 225.1,392.9 224.5,390.1 226.7,388.6 229.9,387.6 233.1,385.5 234.7,383.5 237.4,382.4 240.6,381.4 245.9,380.4 249.1,380.4 252.3,381.4 255.5,382.1 263.0,384.5 266.2,383.0 268.3,383.7 272.6,383.5 276.9,383.0 281.1,382.4 283.3,381.7 289.7,381.4 294.0,378.3 297.2,380.4 299.3,378.9 304.6,377.8 312.1,376.8 320.7,375.3 326.0,374.3 330.3,373.5 333.5,374.8 338.8,375.5 339.9,377.6 347.4,378.3 353.8,377.9 358.0,380.4 368.7,378.9 379.4,379.9 390.1,381.7 400.8,381.4 407.2,381.8 411.4,382.4 411.4,386.5 409.3,387.1 408.2,389.1 404.0,390.6 400.8,391.7 394.4,391.9 393.3,394.2 392.2,395.8 391.1,397.8 387.9,400.4 386.3,400.9 385.8,398.3 385.8,394.7 387.9,393.7 390.1,390.6 384.7,392.2 381.5,392.7 374.1,392.3 370.9,392.7 365.5,397.8 367.7,398.8 369.8,399.9 369.3,401.9 368.7,403.9 366.6,405.5 363.4,408.6 360.2,409.3 358.0,409.6 357.5,411.1 355.9,413.2 357.5,415.2 357.0,417.1 354.3,417.9 354.1,415.2 353.8,414.5 352.7,412.7 349.0,413.2 348.6,411.3 346.3,413.0 344.9,413.7 346.1,414.9 350.0,415.2 347.4,416.2 346.6,417.3 348.2,419.8 349.4,421.4 349.5,422.5 349.0,424.4 346.8,427.0 344.2,429.0 341.0,430.3 337.7,431.1 337.0,432.3 336.4,431.1 334.5,431.1 332.9,432.1 332.1,434.2 333.5,435.7 335.4,437.2 335.9,440.8 335.6,441.5 333.5,442.5 331.3,444.3 331.1,442.9 329.2,441.8 328.7,440.6 326.9,440.1 326.0,439.3 325.1,442.3 326.2,444.4 326.5,445.6 327.6,446.1 329.0,447.5 329.6,449.0 330.5,451.7 329.7,451.8 327.1,450.2 326.3,448.0 326.2,446.4 324.4,444.7 324.2,442.9 324.5,440.8 323.9,438.8 323.4,436.2 322.8,435.9 320.1,436.7 319.9,433.8 318.5,432.8 317.8,431.9 317.2,430.3 315.9,430.4 314.3,430.8 312.1,431.1 312.0,432.0 310.0,433.1 307.1,436.1 304.9,437.2 304.9,439.6 304.4,442.6 303.0,443.9 302.0,444.8 300.9,443.9 299.8,441.0 299.0,439.8 297.7,436.7 297.0,433.6 297.0,431.6 296.7,431.1 294.0,431.8 292.9,430.3 292.4,429.0 290.8,427.7 290.2,427.1 285.4,427.3 280.4,426.7 279.3,425.2 276.9,425.9 274.2,424.5 272.6,422.4 270.5,422.4 271.0,423.9 272.8,426.0 274.2,427.0 273.9,428.0 275.8,428.5 279.0,428.0 279.3,426.3 279.5,428.0 281.7,429.0 283.1,430.1 281.7,432.1 280.1,433.8 277.9,435.7 274.7,437.2 271.0,438.8 267.3,440.0 265.6,440.1 265.1,438.3 264.8,436.2 263.7,434.9 261.9,432.6 260.9,431.1 258.7,427.5 256.6,424.4 256.5,422.9 255.8,421.0 256.6,419.3 257.4,417.3 257.6,415.5 256.0,415.4 253.9,416.1 251.8,415.7 249.1,415.5 248.0,414.7 247.3,413.0 247.5,411.6 250.2,410.9 252.3,411.0 255.5,410.1 257.6,410.4 260.3,411.2 263.5,410.6 263.7,409.6 261.9,408.6 259.8,407.5 259.2,406.5 260.9,405.0 258.2,406.7 255.5,407.6 255.0,407.0 253.9,406.6 255.0,406.0 252.8,405.4 252.0,405.5 250.8,406.7 249.7,408.0 248.9,409.6 249.1,410.6 247.0,411.3 244.8,411.4 243.8,411.8 243.3,411.6 244.3,413.7 243.2,415.7 242.4,415.3 241.6,413.9 240.8,412.4 239.9,410.3 236.3,408.6 234.2,407.0 233.8,406.4 232.3,406.7 232.4,408.0 234.2,409.6 236.3,410.6 239.0,411.9 237.4,413.2 236.8,414.2 236.0,414.2 236.0,412.1 234.2,411.3 230.9,409.7 229.9,408.0 227.7,407.6 225.6,409.0 222.6,408.9 222.6,410.1 220.1,411.1 218.9,412.8 218.7,414.0 217.1,415.5 213.3,416.2 212.3,415.3 211.2,415.0 209.6,415.2 209.8,413.7" fill="#d8e7f5" stroke="#b4c2cf" stroke-width="0.3"/>
<polygon points="212.9,416.4 217.1,417.2 220.3,415.7 222.4,415.4 227.7,415.2 229.9,414.9 230.9,415.2 230.2,416.7 230.9,418.8 232.5,419.5 235.4,420.0 239.5,422.1 240.6,421.4 240.6,420.1 242.7,419.4 245.9,420.3 250.2,421.5 253.7,421.0 255.7,421.0 256.5,422.9 255.8,424.6 254.4,423.9 254.0,422.5 254.1,423.9 255.3,425.5 257.1,428.5 258.9,431.6 259.1,434.2 260.3,434.7 261.4,437.2 263.5,439.0 265.4,440.5 265.2,441.3 266.7,442.5 269.4,441.8 273.9,441.0 273.7,442.5 272.1,446.4 270.5,448.5 268.3,451.1 265.7,453.6 263.5,454.9 261.9,456.7 261.1,459.2 261.4,461.8 262.5,463.9 262.5,468.5 258.7,471.0 256.6,473.1 257.1,476.1 257.1,477.7 254.2,479.5 253.9,482.3 252.3,483.6 249.1,486.9 246.4,487.9 242.7,488.1 240.6,488.7 238.9,488.1 238.7,486.4 237.4,483.3 235.4,480.7 234.7,476.7 233.3,473.6 231.8,470.5 232.0,467.9 233.6,465.4 233.3,462.3 232.2,459.2 232.0,458.2 229.3,455.1 229.1,453.1 229.7,450.5 229.6,449.2 228.3,448.5 225.6,448.7 224.0,446.6 221.3,446.6 217.1,448.2 214.9,447.8 211.2,448.6 209.1,447.5 206.9,446.0 205.1,444.4 203.2,442.0 201.3,440.3 200.7,438.0 201.6,436.2 201.9,433.1 201.0,431.6 203.2,428.5 205.3,424.8 208.5,422.9 208.8,421.4 210.1,419.0 212.3,418.1" fill="#d8e7f5" stroke="#b4c2cf" stroke-width="0.3"/>
<polygon points="271.9,465.4 273.1,469.0 272.4,470.5 271.0,474.1 269.6,478.7 267.5,479.2 265.9,477.2 265.4,475.1 266.6,473.1 266.2,470.5 268.6,469.2 270.5,467.4" fill="#d8e7f5" stroke="#b4c2cf" stroke-width="0.3"/>
<polygon points="340.4,475.6 341.0,480.2 342.0,483.8 342.6,487.7 344.7,488.9 347.4,487.9 351.1,487.8 353.8,486.2 357.0,485.5 359.1,485.4 362.3,486.6 364.1,488.8 366.0,486.9 366.6,489.5 368.7,491.5 370.3,492.4 373.0,492.2 375.7,493.0 377.3,491.8 379.4,491.5 380.5,487.9 382.1,486.2 383.1,481.8 382.6,479.2 381.0,477.7 378.9,475.9 378.1,474.1 375.3,472.0 374.6,468.5 372.8,467.6 371.4,464.1 370.9,466.4 370.4,469.0 369.6,471.0 368.0,470.8 366.4,469.5 363.9,468.5 365.3,465.7 363.4,465.4 360.8,464.9 359.1,465.6 357.5,468.4 355.9,468.5 354.3,467.4 352.7,468.5 351.1,470.3 349.8,471.5 348.4,473.1 345.8,473.9 343.6,474.3 341.2,475.4" fill="#d8e7f5" stroke="#b4c2cf" stroke-width="0.3"/>
<polygon points="27.0,533.0 48.3,533.5 59.0,531.9 69.7,530.4 91.0,528.9 112.4,527.9 128.4,528.4 135.9,528.1 140.2,527.9 143.4,526.8 146.6,524.8 148.7,522.7 151.4,520.7 154.6,518.9 158.3,517.9 156.7,519.5 154.6,521.2 153.0,523.2 151.9,525.3 152.4,527.9 154.1,528.9 160.5,532.5 171.1,533.5 181.8,532.5 189.3,530.4 197.8,528.4 208.5,526.1 219.2,525.0 235.2,524.8 251.2,524.3 261.9,523.8 272.6,521.7 283.3,522.2 294.0,523.2 299.3,524.6 304.6,522.2 315.3,521.2 326.0,520.7 336.7,520.7 347.4,521.4 363.4,520.9 374.1,521.7 384.7,523.8 392.2,525.3 400.8,526.8 398.6,530.9 393.3,533.0 402.9,533.3 411.4,533.0 411.4,545.3 27.0,545.3" fill="#d8e7f5" stroke="#b4c2cf" stroke-width="0.3"/>
<polygon points="128.4,430.8 131.6,429.3 137.0,430.6 140.0,432.4 136.4,432.7 133.8,430.9" fill="#d8e7f5" stroke="#b4c2cf" stroke-width="0.3"/>
<polygon points="139.6,432.8 142.3,432.7 146.1,434.1 143.4,435.1 139.7,434.5" fill="#d8e7f5" stroke="#b4c2cf" stroke-width="0.3"/>
<polygon points="135.6,434.3 137.7,434.4 137.2,434.9 135.9,434.7" fill="#d8e7f5" stroke="#b4c2cf" stroke-width="0.3"/>
<polygon points="147.4,434.2 149.1,434.3 148.9,434.7 147.4,434.7" fill="#d8e7f5" stroke="#b4c2cf" stroke-width="0.3"/>
<polygon points="154.1,505.8 157.3,505.5 156.7,506.6 154.3,506.6" fill="#d8e7f5" stroke="#b4c2cf" stroke-width="0.3"/>
<polygon points="373.6,494.8 377.6,495.0 377.3,497.3 376.0,497.7 374.3,496.6" fill="#d8e7f5" stroke="#b4c2cf" stroke-width="0.3"/>
<polygon points="403.6,488.3 405.6,490.0 407.2,491.6 409.8,491.7 409.2,493.2 408.0,494.1 406.4,495.7 406.0,493.5 404.8,493.2 405.7,492.0 405.4,490.5" fill="#d8e7f5" stroke="#b4c2cf" stroke-width="0.3"/>
<polygon points="403.6,494.6 405.4,495.6 404.5,497.1 403.8,498.0 402.0,498.7 401.4,500.1 399.7,500.8 397.0,500.2 397.3,499.4 398.9,498.2 401.6,496.8 402.9,495.4" fill="#d8e7f5" stroke="#b4c2cf" stroke-width="0.3"/>
<polygon points="359.0,418.3 360.7,416.7 363.9,416.6 365.3,414.9 367.1,414.4 368.7,412.7 368.7,411.3 370.3,410.7 370.9,412.7 369.8,414.7 369.6,416.5 368.5,417.3 367.1,417.7 365.5,417.7 363.6,418.5 361.2,418.0 359.6,418.4" fill="#d8e7f5" stroke="#b4c2cf" stroke-width="0.3"/>
<polygon points="357.7,418.8 359.6,418.6 359.9,420.3 359.1,421.4 358.3,421.0 357.6,419.5" fill="#d8e7f5" stroke="#b4c2cf" stroke-width="0.3"/>
<polygon points="360.4,419.0 363.1,418.1 362.8,419.0 361.2,419.5" fill="#d8e7f5" stroke="#b4c2cf" stroke-width="0.3"/>
<polygon points="368.7,410.6 369.3,408.8 370.5,406.6 372.5,407.8 374.6,408.8 372.2,410.1 370.0,409.6" fill="#d8e7f5" stroke="#b4c2cf" stroke-width="0.3"/>
<polygon points="370.9,406.0 372.5,405.5 371.9,402.4 372.2,399.9 371.6,397.5 371.1,398.3 370.9,400.9 370.9,403.9" fill="#d8e7f5" stroke="#b4c2cf" stroke-width="0.3"/>
<polygon points="347.5,429.5 348.4,427.2 349.5,427.5 348.9,430.1 348.2,430.7" fill="#d8e7f5" stroke="#b4c2cf" stroke-width="0.3"/>
<polygon points="335.2,433.4 336.9,432.5 337.7,433.0 336.1,434.5" fill="#d8e7f5" stroke="#b4c2cf" stroke-width="0.3"/>
<polygon points="304.4,443.1 305.0,443.1 306.7,445.4 306.0,446.8 304.7,447.0 304.3,444.9" fill="#d8e7f5" stroke="#b4c2cf" stroke-width="0.3"/>
<polygon points="347.4,434.2 349.7,434.2 349.8,435.7 349.0,437.2 351.6,439.8 351.4,440.2 350.0,439.3 348.4,439.0 348.0,438.3 347.1,436.7" fill="#d8e7f5" stroke="#b4c2cf" stroke-width="0.3"/>
<polygon points="349.5,445.9 351.1,444.9 353.2,443.1 354.3,445.6 353.8,447.0 352.9,447.4 351.6,446.5 349.6,446.0" fill="#d8e7f5" stroke="#b4c2cf" stroke-width="0.3"/>
<polygon points="349.5,442.3 351.6,441.3 353.3,441.8 352.7,442.9 350.6,443.7 349.5,442.9" fill="#d8e7f5" stroke="#b4c2cf" stroke-width="0.3"/>
<polygon points="344.4,444.6 346.8,441.5 347.1,442.3 345.0,444.4" fill="#d8e7f5" stroke="#b4c2cf" stroke-width="0.3"/>
<polygon points="335.6,451.3 336.3,453.6 336.9,456.1 338.5,456.4 341.5,457.0 343.1,457.1 343.4,454.6 344.7,453.1 345.2,452.1 346.3,452.1 345.2,450.7 346.5,447.7 344.7,446.0 343.8,446.0 342.6,448.0 340.7,449.0 338.3,450.4 336.7,451.4" fill="#d8e7f5" stroke="#b4c2cf" stroke-width="0.3"/>
<polygon points="321.0,447.4 323.3,447.8 326.3,450.8 330.0,453.8 332.4,456.2 332.3,459.0 330.8,459.1 328.1,457.2 326.5,454.6 324.6,451.4 321.7,449.2" fill="#d8e7f5" stroke="#b4c2cf" stroke-width="0.3"/>
<polygon points="331.6,460.1 332.9,459.2 335.1,459.8 337.2,459.9 339.4,460.2 341.5,461.1 341.5,462.0 337.7,461.5 334.5,461.1 332.4,460.7" fill="#d8e7f5" stroke="#b4c2cf" stroke-width="0.3"/>
<polygon points="346.7,458.7 347.8,458.8 347.7,456.0 348.4,455.8 349.5,457.9 350.8,458.0 350.0,456.4 348.7,455.0 350.9,454.1 349.0,453.6 347.6,452.6 348.4,451.8 352.6,451.5 352.7,452.1 350.6,452.3 348.2,452.8 347.1,453.3 346.7,456.7" fill="#d8e7f5" stroke="#b4c2cf" stroke-width="0.3"/>
<polygon points="359.1,454.1 362.3,453.9 363.4,456.5 366.6,454.7 369.8,455.8 373.5,457.0 374.9,458.7 376.7,459.4 376.2,460.8 377.8,462.8 379.9,463.9 376.2,463.5 373.0,461.3 371.9,462.3 369.8,462.5 367.7,461.5 366.6,461.7 366.0,459.8 363.4,457.7 361.2,457.2 360.2,456.0 359.1,454.6" fill="#d8e7f5" stroke="#b4c2cf" stroke-width="0.3"/>
<polygon points="342.0,461.6 346.3,461.5 350.6,461.6 355.0,461.7 352.7,463.6 351.1,463.7 349.5,462.2 345.2,462.3 342.0,462.2" fill="#d8e7f5" stroke="#b4c2cf" stroke-width="0.3"/>
<polygon points="213.1,401.9 216.0,401.3 220.7,400.7 221.0,399.1 219.4,398.3 218.9,397.7 217.6,396.8 217.1,395.8 217.3,394.2 216.0,393.1 213.9,393.1 212.6,394.5 213.2,395.8 214.0,396.8 215.7,397.3 216.0,398.0 214.3,398.5 214.7,399.3 213.6,400.2 216.0,400.5 214.6,400.7" fill="#d8e7f5" stroke="#b4c2cf" stroke-width="0.3"/>
<polygon points="212.8,399.6 212.6,398.0 213.3,397.3 212.3,396.6 210.4,396.6 208.5,397.8 208.6,399.9 208.3,400.3 210.7,400.3 212.5,399.6" fill="#d8e7f5" stroke="#b4c2cf" stroke-width="0.3"/>
<polygon points="379.4,458.2 381.5,457.5 381.9,458.8 379.9,459.4" fill="#d8e7f5" stroke="#b4c2cf" stroke-width="0.3"/>
<polygon points="228.3,411.1 229.6,411.1 229.3,413.2 228.2,413.2" fill="#d8e7f5" stroke="#b4c2cf" stroke-width="0.3"/>
<polygon points="232.5,414.1 235.9,414.0 235.3,415.5 232.5,414.6" fill="#d8e7f5" stroke="#b4c2cf" stroke-width="0.3"/>
<polygon points="244.3,416.7 247.3,417.0 244.8,417.3" fill="#d8e7f5" stroke="#b4c2cf" stroke-width="0.3"/>
<polygon points="253.9,417.3 256.0,416.6 255.0,417.7" fill="#d8e7f5" stroke="#b4c2cf" stroke-width="0.3"/>
<polygon points="202.1,424.4 202.6,424.1 202.8,424.6" fill="#d8e7f5" stroke="#b4c2cf" stroke-width="0.3"/>
<polygon points="149.8,389.1 153.0,385.0 147.6,381.6 142.3,379.8 133.8,377.8 125.2,378.0 129.5,379.9 133.8,380.9 139.1,381.9 142.3,384.0 140.2,386.0 137.0,386.5 141.2,387.1 143.4,389.1" fill="#d8e7f5" stroke="#9aa6b2" stroke-width="0.35"/>
<polygon points="43.5,397.3 37.6,398.8 31.2,400.2 27.0,400.5 27.0,400.0 31.2,399.5 37.6,398.4 43.0,396.9" fill="#d8e7f5" stroke="#9aa6b2" stroke-width="0.35"/>
<polygon points="153.0,369.1 144.4,368.1 128.4,368.6 120.9,370.2 123.1,372.2 133.8,374.8 139.1,373.2 144.4,372.2 150.8,370.2" fill="#d8e7f5" stroke="#9aa6b2" stroke-width="0.35"/>
<polygon points="112.4,382.4 110.3,378.3 99.6,378.0 93.2,378.9 94.2,381.4 101.7,383.0 109.2,383.0" fill="#d8e7f5" stroke="#9aa6b2" stroke-width="0.35"/>
<polygon points="95.3,379.4 91.0,376.8 85.7,377.3 85.7,379.4 88.9,379.9" fill="#d8e7f5" stroke="#9aa6b2" stroke-width="0.35"/>
<polygon points="133.8,375.8 125.2,374.8 120.9,375.8 128.4,376.8" fill="#d8e7f5" stroke="#9aa6b2" stroke-width="0.35"/>
<polygon points="117.7,373.2 112.4,371.7 107.1,372.7 112.4,374.3" fill="#d8e7f5" stroke="#9aa6b2" stroke-width="0.35"/>
<polygon points="107.1,375.3 96.4,373.7 93.2,375.3 101.7,376.3" fill="#d8e7f5" stroke="#9aa6b2" stroke-width="0.35"/>
<polygon points="115.6,379.4 111.3,377.8 113.5,377.3 117.7,378.3" fill="#d8e7f5" stroke="#9aa6b2" stroke-width="0.35"/>
<polygon points="122.0,378.9 117.7,377.3 122.0,377.3" fill="#d8e7f5" stroke="#9aa6b2" stroke-width="0.35"/>
<polygon points="125.2,372.2 117.7,370.2 114.5,371.2 120.9,372.7" fill="#d8e7f5" stroke="#9aa6b2" stroke-width="0.35"/>
<polygon points="133.8,389.1 130.6,389.6 128.4,386.5 131.6,386.5" fill="#d8e7f5" stroke="#9aa6b2" stroke-width="0.35"/>
<polygon points="193.6,386.0 195.7,385.1 202.1,385.0 204.8,386.5 200.0,388.2 195.7,387.8" fill="#d8e7f5" stroke="#9aa6b2" stroke-width="0.35"/>
<polygon points="230.9,372.7 236.3,371.2 242.7,370.9 248.0,371.2 241.6,373.2 238.4,374.7 234.2,373.9" fill="#d8e7f5" stroke="#9aa6b2" stroke-width="0.35"/>
<polygon points="274.7,380.2 277.9,377.8 281.1,375.8 288.6,374.5 292.9,374.5 285.4,376.3 281.1,378.3 279.0,380.7" fill="#d8e7f5" stroke="#9aa6b2" stroke-width="0.35"/>
<polygon points="320.7,372.2 326.0,370.2 331.3,371.2 328.1,372.7" fill="#d8e7f5" stroke="#9aa6b2" stroke-width="0.35"/>
<polygon points="364.4,376.3 370.9,375.3 379.4,375.8 374.1,377.3 368.7,377.8" fill="#d8e7f5" stroke="#9aa6b2" stroke-width="0.35"/>
<polygon points="270.5,371.2 277.9,370.2 285.4,370.7 279.0,371.4" fill="#d8e7f5" stroke="#9aa6b2" stroke-width="0.35"/>
<polygon points="409.8,380.4 411.4,379.9 411.4,380.6" fill="#d8e7f5" stroke="#9aa6b2" stroke-width="0.35"/>
<polygon points="27.0,379.9 30.2,380.1 29.1,380.5 27.0,380.6" fill="#d8e7f5" stroke="#9aa6b2" stroke-width="0.35"/>
<polygon points="85.7,379.9 91.0,381.6 101.7,382.2 112.4,381.8 117.7,379.4 123.1,379.4 128.4,380.9 133.8,380.9 139.1,381.9 142.3,384.0 140.2,386.0 137.0,386.5 141.2,387.1 143.4,389.1 149.8,389.1 153.0,385.0 147.6,381.6 142.3,379.8 135.9,377.8 140.2,375.3 144.4,372.2 153.0,369.1 144.4,368.1 128.4,368.6 120.9,370.2 112.4,371.2 101.7,372.7 93.2,374.3 87.8,375.3 85.7,377.3" fill="#d8e7f5" stroke="#9aa6b2" stroke-width="0.35"/>
<polyline points="109.2,379.4 109.2,376.8" fill="none" stroke="#a4aebb" stroke-width="1.7" stroke-linejoin="round"/>
<polyline points="109.2,379.4 109.2,376.8" fill="none" stroke="#ffffff" stroke-width="1.1" stroke-linejoin="round"/>
<polyline points="116.7,379.1 116.7,377.0" fill="none" stroke="#a4aebb" stroke-width="1.7" stroke-linejoin="round"/>
<polyline points="116.7,379.1 116.7,377.0" fill="none" stroke="#ffffff" stroke-width="1.1" stroke-linejoin="round"/>
<polyline points="122.0,379.6 123.1,377.0" fill="none" stroke="#a4aebb" stroke-width="1.7" stroke-linejoin="round"/>
<polyline points="122.0,379.6 123.1,377.0" fill="none" stroke="#ffffff" stroke-width="1.1" stroke-linejoin="round"/>
<polyline points="93.2,380.1 95.3,377.0" fill="none" stroke="#a4aebb" stroke-width="1.7" stroke-linejoin="round"/>
<polyline points="93.2,380.1 95.3,377.0" fill="none" stroke="#ffffff" stroke-width="1.1" stroke-linejoin="round"/>
<polyline points="88.9,375.0 99.6,374.5 107.1,374.8" fill="none" stroke="#a4aebb" stroke-width="1.7" stroke-linejoin="round"/>
<polyline points="88.9,375.0 99.6,374.5 107.1,374.8" fill="none" stroke="#ffffff" stroke-width="1.1" stroke-linejoin="round"/>
<polyline points="112.4,375.3 116.7,373.7" fill="none" stroke="#a4aebb" stroke-width="1.7" stroke-linejoin="round"/>
<polyline points="112.4,375.3 116.7,373.7" fill="none" stroke="#ffffff" stroke-width="1.1" stroke-linejoin="round"/>
<polyline points="123.1,375.0 129.5,375.1 135.9,375.3" fill="none" stroke="#a4aebb" stroke-width="1.7" stroke-linejoin="round"/>
<polyline points="123.1,375.0 129.5,375.1 135.9,375.3" fill="none" stroke="#ffffff" stroke-width="1.1" stroke-linejoin="round"/>
<polyline points="112.4,372.6 120.9,373.0" fill="none" stroke="#a4aebb" stroke-width="1.7" stroke-linejoin="round"/>
<polyline points="112.4,372.6 120.9,373.0" fill="none" stroke="#ffffff" stroke-width="1.1" stroke-linejoin="round"/>
<polyline points="119.9,376.9 119.9,374.3" fill="none" stroke="#a4aebb" stroke-width="1.7" stroke-linejoin="round"/>
<polyline points="119.9,376.9 119.9,374.3" fill="none" stroke="#ffffff" stroke-width="1.1" stroke-linejoin="round"/>
<polyline points="99.6,373.2 108.1,371.7" fill="none" stroke="#a4aebb" stroke-width="1.7" stroke-linejoin="round"/>
<polyline points="99.6,373.2 108.1,371.7" fill="none" stroke="#ffffff" stroke-width="1.1" stroke-linejoin="round"/>
<polyline points="85.7,377.0 99.6,376.7 112.4,376.9 123.1,377.0 133.8,377.2 137.0,377.3" fill="none" stroke="#a4aebb" stroke-width="1.7" stroke-linejoin="round"/>
<polyline points="85.7,377.0 99.6,376.7 112.4,376.9 123.1,377.0 133.8,377.2 137.0,377.3" fill="none" stroke="#ffffff" stroke-width="1.1" stroke-linejoin="round"/>
<polyline points="86.8,380.5 96.4,381.5 107.1,382.3 114.5,382.2" fill="none" stroke="#a4aebb" stroke-width="1.7" stroke-linejoin="round"/>
<polyline points="86.8,380.5 96.4,381.5 107.1,382.3 114.5,382.2" fill="none" stroke="#ffffff" stroke-width="1.1" stroke-linejoin="round"/>
<polyline points="112.4,378.9 115.6,380.4 118.8,380.9" fill="none" stroke="#a4aebb" stroke-width="1.7" stroke-linejoin="round"/>
<polyline points="112.4,378.9 115.6,380.4 118.8,380.9" fill="none" stroke="#ffffff" stroke-width="1.1" stroke-linejoin="round"/>
<polyline points="116.7,374.3 123.1,372.2 129.5,370.7 135.9,369.3" fill="none" stroke="#a4aebb" stroke-width="1.7" stroke-linejoin="round"/>
<polyline points="116.7,374.3 123.1,372.2 129.5,370.7 135.9,369.3" fill="none" stroke="#ffffff" stroke-width="1.1" stroke-linejoin="round"/>
<polyline points="99.6,375.3 106.0,373.7 112.4,372.4" fill="none" stroke="#a4aebb" stroke-width="1.7" stroke-linejoin="round"/>
<polyline points="99.6,375.3 106.0,373.7 112.4,372.4" fill="none" stroke="#ffffff" stroke-width="1.1" stroke-linejoin="round"/>
<polyline points="124.1,378.9 127.4,379.4 130.6,380.4" fill="none" stroke="#a4aebb" stroke-width="1.7" stroke-linejoin="round"/>
<polyline points="124.1,378.9 127.4,379.4 130.6,380.4" fill="none" stroke="#ffffff" stroke-width="1.1" stroke-linejoin="round"/>
<polyline points="133.8,380.5 140.2,381.4 144.4,383.0" fill="none" stroke="#a4aebb" stroke-width="1.7" stroke-linejoin="round"/>
<polyline points="133.8,380.5 140.2,381.4 144.4,383.0" fill="none" stroke="#ffffff" stroke-width="1.1" stroke-linejoin="round"/>
<polygon points="269.4,407.0 272.6,405.2 275.8,405.0 275.8,407.0 274.2,407.5 275.3,409.6 275.8,411.1 276.9,414.2 276.3,415.2 273.1,415.2 271.5,413.9 272.1,411.8 270.5,410.1 269.9,409.1" fill="#ffffff"/>
<polygon points="224.5,392.9 224.5,390.1 226.7,388.6 229.9,387.6 233.1,385.5 234.7,383.5 237.4,382.4 240.6,381.4 245.9,380.4 249.1,380.4 252.3,381.4 255.5,382.1 263.0,384.5 261.9,387.6 256.6,389.6 251.2,391.7 249.1,391.1 243.8,391.7 242.2,390.6 242.2,388.6 246.4,386.5 242.7,385.7 241.6,387.6 238.4,389.1 237.4,390.6 239.5,391.7 238.4,392.7 236.8,394.7 234.7,395.8 233.1,396.3 232.5,395.2 231.7,393.7 230.4,392.5 227.7,393.5" fill="#bcd6ec"/>
<polygon points="171.7,455.7 176.5,456.0 179.7,458.0 181.6,458.7 181.8,461.8 179.7,464.4 177.8,466.9 177.5,471.0 175.4,469.5 174.3,463.3 173.3,458.2" fill="#bcd6ec"/>
<polygon points="153.0,493.0 149.8,490.0 153.0,486.9 157.3,488.4 158.3,490.5 157.8,492.0" fill="#bcd6ec"/>
<polygon points="112.4,402.9 117.7,399.9 123.1,397.8 133.8,399.9 139.1,401.9 148.7,401.9 155.1,401.9 158.3,399.9 159.6,400.1 156.2,403.4 150.3,402.9 148.7,407.0 144.4,408.5 143.9,410.3 140.2,411.6 138.0,413.7 138.6,417.0 135.9,418.5 132.7,420.8 133.8,425.5 133.3,427.3 131.8,426.0 130.8,423.4 128.4,422.7 124.1,422.1 123.1,423.4 118.8,422.8 115.3,424.9 114.5,422.4 113.5,417.3 112.4,412.1" fill="#bcd6ec"/>
<polygon points="153.0,395.8 157.8,398.8 155.1,399.9 148.7,398.8 144.4,396.8 146.6,393.7 150.8,393.2" fill="#bcd6ec"/>
<polygon points="96.4,402.9 99.6,399.9 95.3,396.8 91.0,394.7 85.7,393.7 82.5,395.8 88.9,401.9 93.2,405.0" fill="#bcd6ec"/>
<polygon points="101.7,407.0 106.0,412.1 107.1,417.3 103.9,415.2 100.7,410.1" fill="#bcd6ec"/>
<polygon points="209.6,413.4 209.1,409.1 210.7,408.4 217.1,408.7 217.6,406.0 214.4,404.2 217.6,403.2 220.8,401.7 223.5,400.4 224.5,398.8 228.3,398.0 228.0,396.3 230.4,394.0 232.0,397.3 234.2,397.8 239.0,397.0 241.6,396.3 241.6,394.7 244.8,394.4 244.3,392.5 249.1,392.2 251.2,391.7 256.6,389.6 267.3,389.6 277.9,391.7 283.3,394.7 281.1,398.8 272.6,399.9 267.3,401.9 261.9,405.0 256.6,406.5 251.2,407.0 249.1,410.1 242.7,412.1 240.6,412.1 236.3,411.1 232.0,410.1 227.7,408.0 222.4,409.1 219.2,412.1 213.9,415.2 209.6,415.2" fill="#bcd6ec"/>
<polygon points="224.5,392.9 224.5,390.1 226.7,388.6 229.9,387.6 233.1,385.5 234.7,383.5 237.4,382.4 240.6,381.4 242.7,383.5 237.4,386.5 232.0,389.6 228.8,391.7 226.7,393.2" fill="#bcd6ec"/>
<polygon points="213.1,401.9 216.0,401.3 220.7,400.7 221.0,399.1 219.4,398.3 217.6,396.8 217.1,395.8 217.3,394.2 216.0,393.1 213.9,393.1 212.6,394.5 213.2,395.8 214.0,396.8 215.7,397.3 216.0,398.0 214.3,398.5 214.7,399.3 213.6,400.2 216.0,400.5 214.6,400.7" fill="#bcd6ec"/>
<polygon points="212.8,399.6 212.6,398.0 213.3,397.3 212.3,396.6 210.4,396.6 208.5,397.8 208.6,399.9 208.3,400.3 210.7,400.3 212.5,399.6" fill="#bcd6ec"/>
<polygon points="251.2,391.7 267.3,392.2 283.3,392.7 299.3,392.2 315.3,391.7 322.8,390.1 322.8,385.5 315.3,383.5 299.3,383.0 283.3,383.0 272.6,383.5 261.9,383.0 251.2,383.0" fill="#bcd6ec"/>
<polygon points="172.2,391.9 167.9,390.6 167.9,388.6 171.1,385.5 176.5,381.4 184.0,377.3 192.5,373.2 198.9,374.3 197.8,376.3 195.7,379.4 195.7,380.9 192.5,383.0 185.0,383.5 179.7,386.0 176.5,386.5 173.3,391.7" fill="#bcd6ec"/>
<polygon points="347.4,391.7 358.0,389.6 368.7,390.6 371.9,394.7 369.8,399.9 368.7,405.0 363.4,408.6 358.0,409.1 354.8,405.0 349.5,401.9 345.2,397.8" fill="#bcd6ec"/>
<polygon points="292.4,429.0 296.7,431.1 297.0,433.6 297.7,436.7 299.0,439.8 299.8,441.0 300.9,443.9 302.0,444.8 303.0,443.9 304.4,442.6 304.9,439.6 304.9,437.2 307.1,436.1 310.0,433.1 312.0,432.0 312.1,431.1 314.3,430.8 315.3,427.5 313.2,425.5 310.0,424.4 304.6,422.4 299.3,420.3 296.1,422.4 294.0,426.5" fill="#bcd6ec"/>
<polygon points="352.7,396.8 363.4,396.8 368.7,399.9 369.8,403.9 363.4,408.6 358.0,409.1 354.8,405.0 349.5,401.9" fill="#bcd6ec"/>
<polygon points="384.7,392.2 387.9,393.7 385.8,394.7 385.8,398.3 386.3,400.9 387.9,400.4 391.1,397.8 392.2,395.8 393.3,394.2 390.1,391.7" fill="#bcd6ec"/>
<polygon points="322.8,424.4 326.0,427.5 331.3,419.3 336.7,414.2 342.0,411.1 349.5,411.1 352.7,410.1 358.0,409.1 363.4,408.6 360.2,409.3 358.0,409.6 357.5,411.1 353.8,414.5 352.7,412.7 349.0,413.2 346.3,413.0 346.1,414.9 350.0,415.2 347.4,416.2 349.4,421.4 349.0,424.4 346.8,427.0 344.2,429.0 341.0,430.3 337.7,431.1 334.5,431.1 331.3,430.6 326.0,430.6" fill="#bcd6ec"/>
<polygon points="297.2,418.3 302.5,419.3 310.0,423.4 317.5,423.9 322.8,424.4 323.9,427.5 317.5,426.5 310.0,425.5 304.6,423.4 299.3,420.3" fill="#bcd6ec"/>
<polygon points="200.7,438.0 201.3,440.3 203.2,442.0 205.1,444.4 206.9,446.0 209.1,447.5 211.2,448.6 214.9,447.8 217.1,448.2 221.3,446.6 224.0,446.6 225.6,448.7 228.3,448.5 229.6,449.2 229.7,450.5 229.1,453.1 229.3,455.1 232.0,458.2 232.2,459.2 233.3,462.3 233.6,465.4 233.1,468.5 236.3,470.5 240.6,472.6 245.9,474.6 249.1,478.7 248.0,483.8 244.8,486.4 242.7,488.1 246.4,487.9 249.1,486.9 252.3,483.6 253.9,482.3 254.2,479.5 257.1,477.7 257.1,476.1 256.6,473.1 258.7,471.0 262.5,468.5 262.5,463.9 261.4,461.8 261.1,459.2 261.9,456.7 263.5,454.9 263.0,451.1 261.9,448.0 264.1,444.9 261.9,440.8 258.7,438.8 254.4,439.8 245.9,439.3 235.2,438.8 224.5,438.3 213.9,437.7 206.4,437.2" fill="#bcd6ec"/>
<polygon points="167.4,479.7 167.2,482.3 164.7,484.8 162.6,487.7 160.5,488.9 157.3,488.4 158.3,490.5 155.1,490.0 153.0,486.9 150.8,481.8 153.0,477.7 157.3,475.6 163.7,475.6" fill="#bcd6ec"/>
<polygon points="351.6,468.5 355.9,468.5 359.1,465.6 360.8,464.9 363.4,465.4 365.3,465.7 363.9,468.5 366.4,469.5 368.0,470.8 369.6,471.0 370.4,469.0 370.9,466.4 371.4,464.1 372.8,467.6 374.6,468.5 375.3,472.0 378.1,474.1 378.9,475.9 381.0,477.7 382.6,479.2 383.1,481.8 382.1,486.2 380.5,487.9 379.4,491.5 377.3,491.8 375.7,493.0 373.0,492.2 370.3,492.4 370.9,490.0 375.1,487.9 377.3,483.8 378.3,479.7 375.1,475.6 370.9,472.6 365.5,473.1 360.2,471.5 354.8,471.5 351.1,470.3" fill="#bcd6ec"/>
<polygon points="342.6,487.7 344.7,488.9 347.4,487.9 345.2,485.9 342.6,484.8" fill="#bcd6ec"/>
<polygon points="373.6,494.8 377.6,495.0 377.3,497.3 376.0,497.7 374.3,496.6" fill="#bcd6ec"/>
<polygon points="128.4,430.8 131.6,429.3 137.0,430.6 140.0,432.4 136.4,432.7 133.8,430.9" fill="#93bfe1"/>
<polygon points="139.6,432.8 142.3,432.7 146.1,434.1 143.4,435.1 139.7,434.5" fill="#93bfe1"/>
<polygon points="172.7,391.7 170.1,390.1 171.1,387.6 175.4,384.5 180.8,381.9 187.2,381.4 192.5,383.0 185.0,383.5 179.7,386.0 176.5,386.5" fill="#93bfe1"/>
<polygon points="298.2,419.3 302.5,420.8 306.8,423.4 311.0,424.9 315.3,425.5 319.6,424.9 321.7,423.9 320.7,422.9 315.3,423.9 311.0,423.6 306.8,421.9 302.5,419.3 299.3,417.8" fill="#93bfe1"/>
<polygon points="304.4,443.1 305.0,443.1 306.7,445.4 306.0,446.8 304.7,447.0 304.3,444.9" fill="#93bfe1"/>
<polygon points="117.7,422.8 123.1,423.4 124.1,422.1 128.4,422.7 130.8,423.4 131.8,426.0 133.3,427.3 133.8,425.5 132.7,420.8 135.9,418.5 138.6,417.0 138.0,413.7 133.8,413.2 128.4,414.2 123.1,415.2 118.8,417.3" fill="#93bfe1"/>
<polygon points="86.8,411.6 86.2,409.1 86.8,405.7 86.0,403.5 87.8,402.9 83.6,401.4 80.4,397.3 77.2,394.7 72.9,392.7 69.7,391.9 65.4,391.7 61.1,391.1 60.1,390.1 69.7,390.3 75.0,391.7 80.4,394.2 84.6,398.3 88.9,401.9 90.0,405.0 88.9,409.1 88.4,411.6" fill="#93bfe1"/>
<polygon points="115.0,428.5 114.7,430.6 116.7,433.6 118.3,434.5 122.0,433.6 122.5,431.6 126.3,431.1 125.7,434.7 124.7,436.7 129.5,436.9 130.2,438.3 129.9,441.8 131.6,443.9 134.3,443.4 136.4,444.4 136.3,445.4 135.4,445.1 133.2,445.4 130.0,444.4 127.7,442.9 125.7,439.8 122.0,438.9 118.8,436.7 116.7,435.7 114.5,433.6 113.5,430.6" fill="#93bfe1"/>
<polygon points="155.1,469.5 160.5,466.4 165.8,463.3 170.1,461.3 173.3,463.3 174.3,471.5 172.2,476.7 167.4,479.7 167.2,482.3 164.7,484.8 160.5,483.8 157.3,481.8 154.1,478.7 151.9,473.6" fill="#93bfe1"/>
<polygon points="136.4,444.4 138.0,443.4 138.6,442.3 140.2,441.8 142.3,442.3 144.4,442.9 148.7,442.7 153.0,442.6 154.1,444.4 156.2,444.9 158.3,447.0 161.5,447.2 164.2,448.7 165.8,451.4 165.8,453.1 167.4,454.1 171.7,455.7 173.3,458.2 174.3,463.3 175.4,469.5 175.9,474.1 174.3,476.5 171.7,476.9 167.4,479.7 167.2,482.3 164.7,484.8 162.6,487.7 160.5,488.9 157.3,488.4 155.1,486.9 153.0,483.8 150.8,478.7 149.8,473.6 146.6,470.5 142.3,467.4 138.0,463.3 134.8,459.2 133.8,456.2 134.3,453.1 135.0,451.6 136.4,449.0 136.6,446.4" fill="#93bfe1"/>
<polygon points="143.4,492.0 140.7,491.0 140.7,495.6 140.2,498.2 138.6,502.3 139.6,506.9 143.4,509.4 142.3,506.3 141.2,501.2 142.3,496.1 142.3,493.0" fill="#93bfe1"/>
<polygon points="201.3,440.3 203.2,442.0 205.1,444.4 206.9,446.0 209.1,447.5 211.2,448.6 214.9,447.8 217.1,448.2 221.3,446.6 224.0,446.6 225.6,448.7 228.3,448.5 229.6,449.2 229.7,450.5 229.1,453.1 229.3,455.1 232.0,458.2 232.2,459.2 233.3,462.3 234.2,465.4 238.4,466.4 244.8,467.4 251.2,468.5 256.6,469.5 258.7,471.0 262.5,468.5 262.5,463.9 261.4,461.8 257.6,459.2 255.5,456.2 253.4,452.1 254.4,448.0 252.3,444.9 245.9,442.9 235.2,442.3 227.7,441.8 219.2,441.8 210.7,440.8 205.3,439.8" fill="#93bfe1"/>
<polygon points="257.6,439.8 260.9,438.8 262.5,441.8 261.9,445.9 258.7,447.0 257.1,443.9" fill="#93bfe1"/>
<polygon points="224.5,391.7 225.6,389.6 229.9,387.6 233.1,385.5 234.7,383.5 232.0,385.5 227.7,388.6 225.1,390.6" fill="#93bfe1"/>
<polygon points="330.3,426.5 334.5,424.4 338.8,423.4 345.2,421.4 349.4,421.4 349.5,422.5 349.0,424.4 346.8,427.0 344.2,429.0 341.0,430.3 337.7,431.1 334.5,431.1 331.3,430.6 328.1,429.5" fill="#93bfe1"/>
<polygon points="299.3,430.6 304.6,427.5 310.0,425.5 313.2,425.5 317.5,426.5 317.5,430.6 315.9,430.4 314.3,430.8 312.1,431.1 312.0,432.0 310.0,433.1 307.1,436.1 304.9,437.2 303.6,436.7 301.4,433.6 299.3,432.6" fill="#93bfe1"/>
<polygon points="317.5,424.4 321.7,423.9 326.0,427.5 330.3,430.6 332.9,432.1 332.1,434.2 333.5,435.7 335.4,437.2 335.9,440.8 335.6,441.5 333.5,442.5 331.3,444.3 331.1,442.9 329.2,441.8 328.7,440.6 326.9,440.1 326.0,439.3 325.1,442.3 326.2,444.4 326.5,445.6 327.6,446.1 329.0,447.5 329.6,449.0 330.5,451.7 329.7,451.8 327.1,450.2 326.3,448.0 326.2,446.4 324.4,444.7 324.2,442.9 324.5,440.8 323.9,438.8 323.4,436.2 322.8,435.9 320.1,436.7 319.9,433.8 318.5,432.8 317.8,431.9 317.2,430.3 315.9,430.4 314.3,430.6 313.2,428.5 313.2,426.0" fill="#93bfe1"/>
<polygon points="359.0,418.3 360.7,416.7 363.9,416.6 365.3,414.9 367.1,414.4 368.7,412.7 368.7,411.3 370.3,410.7 370.9,412.7 369.8,414.7 369.6,416.5 368.5,417.3 367.1,417.7 365.5,417.7 363.6,418.5 361.2,418.0 359.6,418.4" fill="#93bfe1"/>
<polygon points="357.7,418.8 359.6,418.6 359.9,420.3 359.1,421.4 358.3,421.0 357.6,419.5" fill="#93bfe1"/>
<polygon points="360.4,419.0 363.1,418.1 362.8,419.0 361.2,419.5" fill="#93bfe1"/>
<polygon points="347.5,429.5 348.4,427.2 349.5,427.5 348.9,430.1 348.2,430.7" fill="#93bfe1"/>
<polygon points="358.0,464.9 360.8,464.9 363.4,465.4 365.3,465.7 363.9,468.5 361.2,467.4 358.0,466.9" fill="#93bfe1"/>
<polygon points="371.4,464.1 372.8,467.6 374.6,468.5 375.3,472.0 378.1,474.1 376.2,474.6 374.1,471.5 372.5,468.5" fill="#93bfe1"/>
<polygon points="403.6,494.6 405.4,495.6 404.5,497.1 403.8,498.0 402.0,498.7 401.4,500.1 399.7,500.8 397.0,500.2 397.3,499.4 398.9,498.2 401.6,496.8 402.9,495.4" fill="#93bfe1"/>
<polygon points="403.6,488.3 405.6,490.0 407.2,491.6 409.8,491.7 409.2,493.2 408.0,494.1 406.4,495.7 406.0,493.5 404.8,493.2 405.7,492.0 405.4,490.5" fill="#93bfe1"/>
<polygon points="269.4,467.4 272.6,468.5 272.4,470.5 271.0,474.1 269.6,478.7 270.5,475.6 271.5,471.5" fill="#93bfe1"/>
<polygon points="224.5,392.7 224.5,390.1 226.7,388.6 229.9,387.6 233.1,385.5 234.7,383.5 235.2,384.0 232.0,386.5 228.8,388.6 226.1,390.1 225.6,392.2" fill="#5a9fd2"/>
<polygon points="86.8,410.1 86.2,409.1 86.8,405.7 86.0,403.5 87.8,402.9 83.6,401.4 80.4,397.3 77.2,394.7 72.9,392.7 69.7,391.9 65.4,391.7 63.3,391.0 69.7,391.1 75.0,392.7 79.3,395.2 83.0,399.3 86.8,402.4 87.8,406.0 87.5,410.1" fill="#5a9fd2"/>
<polygon points="115.6,433.6 118.3,434.5 122.0,433.6 122.5,432.1 125.2,432.1 125.7,434.7 124.7,436.7 129.5,436.9 130.2,438.3 129.9,441.8 131.6,443.9 134.3,443.4 136.4,444.4 136.3,445.4 135.4,445.1 133.2,445.4 130.0,444.4 127.7,442.9 125.7,439.8 122.0,438.9 118.8,436.7 116.7,436.2" fill="#5a9fd2"/>
<polygon points="135.9,445.4 140.2,444.9 144.4,444.9 148.7,444.4 153.0,444.4 155.1,445.4 158.3,447.5 161.5,448.0 164.2,449.0 165.8,451.4 165.8,453.1 167.4,454.1 170.1,455.7 172.2,457.2 172.7,461.3 172.7,467.4 172.2,472.6 170.6,476.7 167.4,479.7 167.2,482.3 165.3,483.8 162.6,484.8 159.4,482.8 157.3,480.7 155.1,477.7 153.0,473.6 150.8,470.5 146.6,469.0 142.3,466.4 139.1,463.3 136.4,459.2 135.4,455.1 135.4,452.1 136.4,449.0" fill="#5a9fd2"/>
<polygon points="160.5,478.7 165.8,477.7 167.4,479.7 167.2,482.3 165.8,483.8 162.6,482.8 160.5,481.3" fill="#5a9fd2"/>
<polygon points="205.1,444.4 206.9,446.0 209.1,447.5 211.2,448.6 214.9,447.8 216.0,446.4 210.7,444.4 206.4,442.9" fill="#5a9fd2"/>
<polygon points="224.5,445.9 228.8,446.4 228.3,448.5 229.6,449.2 229.7,450.5 229.1,453.1 229.3,455.1 232.0,458.2 233.1,460.3 238.4,461.3 244.8,461.8 250.2,460.3 251.2,456.2 252.3,452.1 251.2,449.0 247.0,447.0 240.6,445.4 234.2,444.4" fill="#5a9fd2"/>
<polygon points="217.1,448.2 214.9,447.8 211.2,448.6 212.8,446.4 216.0,445.9" fill="#5a9fd2"/>
<polygon points="330.3,429.5 332.9,432.1 332.1,434.2 333.5,435.7 335.4,437.2 332.4,437.7 329.2,435.7 328.1,432.6" fill="#5a9fd2"/>
<polygon points="313.2,430.6 314.3,430.8 315.9,430.4 317.2,430.3 317.8,431.9 318.5,432.8 319.9,433.8 320.1,436.7 322.8,435.9 323.4,436.2 324.5,440.8 324.2,442.9 324.4,444.7 326.2,446.4 327.1,449.0 329.6,449.0 330.5,451.7 329.7,451.8 327.1,450.2 326.3,448.0 324.9,444.9 325.5,440.8 324.4,437.7 322.8,432.6 321.7,428.5 320.7,425.5 317.5,425.5 315.3,427.5" fill="#5a9fd2"/>
<polygon points="297.0,431.6 297.7,436.7 299.0,439.8 299.8,441.0 300.9,443.9 302.0,444.8 301.4,442.9 300.4,440.8 299.3,437.7 298.2,434.7 297.7,431.6" fill="#5a9fd2"/>
<polygon points="335.6,451.3 336.3,453.6 336.9,456.1 338.5,456.4 341.5,457.0 343.1,457.1 343.4,454.6 344.7,453.1 345.2,452.1 346.3,452.1 345.2,450.7 346.5,447.7 344.7,446.0 343.8,446.0 342.6,448.0 340.7,449.0 338.3,450.4 336.7,451.4" fill="#5a9fd2"/>
<polygon points="321.0,447.4 323.3,447.8 326.3,450.8 330.0,453.8 332.4,456.2 332.3,459.0 330.8,459.1 328.1,457.2 326.5,454.6 324.6,451.4 321.7,449.2" fill="#5a9fd2"/>
<polygon points="331.6,460.1 332.9,459.2 335.1,459.8 337.2,459.9 339.4,460.2 341.5,461.1 341.5,462.0 337.7,461.5 334.5,461.1 332.4,460.7" fill="#5a9fd2"/>
<polygon points="346.7,458.7 347.8,458.8 347.7,456.0 348.4,455.8 349.5,457.9 350.8,458.0 350.0,456.4 348.7,455.0 350.9,454.1 349.0,453.6 347.6,452.6 348.4,451.8 352.6,451.5 352.7,452.1 350.6,452.3 348.2,452.8 347.1,453.3 346.7,456.7" fill="#5a9fd2"/>
<polygon points="359.1,454.1 362.3,453.9 363.4,456.5 366.6,454.7 369.8,455.8 373.5,457.0 374.9,458.7 376.7,459.4 376.2,460.8 377.8,462.8 379.9,463.9 376.2,463.5 373.0,461.3 371.9,462.3 369.8,462.5 367.7,461.5 366.6,461.7 366.0,459.8 363.4,457.7 361.2,457.2 360.2,456.0 359.1,454.6" fill="#5a9fd2"/>
<polygon points="349.5,445.9 351.1,444.9 353.2,443.1 354.3,445.6 353.8,447.0 352.9,447.4 351.6,446.5 349.6,446.0" fill="#5a9fd2"/>
<polygon points="349.5,442.3 351.6,441.3 353.3,441.8 352.7,442.9 350.6,443.7 349.5,442.9" fill="#5a9fd2"/>
<polygon points="347.4,434.2 349.7,434.2 349.8,435.7 349.0,437.2 351.6,439.8 351.4,440.2 350.0,439.3 348.4,439.0 348.0,438.3 347.1,436.7" fill="#5a9fd2"/>
<polygon points="139.6,506.9 138.6,502.3 140.2,498.2 140.7,495.6 141.8,496.1 141.2,501.2 141.2,505.3" fill="#5a9fd2"/>
<polygon points="359.0,418.3 360.7,416.7 363.9,416.6 365.3,414.9 367.1,414.4 368.7,412.7 368.7,411.3 370.3,410.7 370.9,412.7 369.8,414.7 369.6,416.5 368.5,417.3 367.1,417.7 365.5,417.7 363.6,418.5 361.2,418.0 359.6,418.4" fill="#5a9fd2"/>
<polygon points="357.7,418.8 359.6,418.6 359.9,420.3 359.1,421.4 358.3,421.0 357.6,419.5" fill="#5a9fd2"/>
<polygon points="360.4,419.0 363.1,418.1 362.8,419.0 361.2,419.5" fill="#5a9fd2"/>
<polygon points="360.7,416.7 363.9,416.6 365.3,414.9 367.1,414.4 368.2,413.7 366.6,415.7 364.4,417.3 361.2,417.7" fill="#2b78bd"/>
<polygon points="363.6,418.5 365.5,417.7 365.0,418.3 363.9,418.8" fill="#2b78bd"/>
<polygon points="124.7,436.7 129.5,436.9 130.2,438.3 129.9,441.8 131.6,443.9 134.3,443.4 136.4,444.4 135.9,444.9 133.8,444.4 131.1,443.4 129.0,440.8 127.4,438.3" fill="#2b78bd"/>
<polygon points="86.2,403.5 83.6,401.4 80.4,397.3 77.2,394.7 72.9,392.7 69.7,391.9 70.7,391.5 76.1,393.0 79.3,395.4 82.5,398.6 84.6,400.7 86.8,402.9" fill="#2b78bd"/>
<polygon points="136.4,447.0 141.2,446.4 146.6,447.0 150.8,447.0 155.1,448.0 158.3,449.0 161.5,450.0 164.2,450.5 165.8,452.6 166.3,454.6 163.7,457.2 160.5,459.2 157.3,462.3 154.1,465.4 150.8,467.9 147.6,468.5 144.4,466.9 140.2,463.9 137.5,460.3 136.1,456.2 135.9,453.1 136.4,450.0" fill="#2b78bd"/>
<polygon points="136.3,445.4 135.4,445.1 133.2,445.4 134.8,443.9 136.4,444.4" fill="#2b78bd"/>
<polygon points="205.1,444.4 206.9,446.0 209.1,447.5 210.7,447.5 208.5,444.9 206.4,443.4" fill="#2b78bd"/>
<polygon points="228.3,448.5 229.6,449.2 229.7,450.5 229.1,453.1 230.4,453.6 230.9,451.1 229.9,448.5" fill="#2b78bd"/>
<polygon points="317.8,431.9 318.5,432.8 319.9,433.8 320.1,436.7 322.8,435.9 323.4,436.2 324.5,440.8 324.2,442.9 324.4,444.7 324.9,443.9 324.8,439.8 323.9,436.2 321.2,433.6 319.1,431.1 317.5,428.5 316.4,428.0" fill="#2b78bd"/>
<polygon points="335.6,451.3 336.3,453.6 336.9,456.1 338.5,456.4 341.5,457.0 343.1,457.1 343.4,454.6 344.7,453.1 345.2,452.1 343.1,450.0 341.0,451.1 338.3,451.6" fill="#2b78bd"/>
<polygon points="321.0,447.4 323.3,447.8 324.9,450.0 327.1,453.1 329.2,455.1 328.1,457.2 326.5,454.6 324.6,451.4 321.7,449.2" fill="#2b78bd"/>
<polygon points="366.6,454.7 369.8,455.8 373.5,457.0 374.9,458.7 376.2,460.3 373.0,459.2 369.8,458.2 366.6,457.2" fill="#2b78bd"/>
<polygon points="297.7,436.7 299.0,439.8 299.8,441.0 300.6,442.9 299.8,440.3 298.8,437.7" fill="#2b78bd"/>
<polygon points="327.1,449.0 329.6,449.0 330.5,451.7 329.7,451.8 327.6,450.5" fill="#2b78bd"/>
<polygon points="138.0,449.0 142.3,448.5 146.6,449.5 150.8,450.0 154.1,452.1 156.2,455.1 157.3,458.2 155.1,461.3 151.9,463.3 147.6,464.4 143.4,463.9 140.2,461.3 138.0,457.2 137.2,453.1" fill="#0b4f9c"/>
<polygon points="158.3,450.0 161.5,450.5 163.7,452.1 162.6,454.1 159.4,453.1" fill="#0b4f9c"/>
<polygon points="135.9,451.1 136.4,449.0 136.6,446.4 137.0,448.0 137.5,450.5" fill="#0b4f9c"/>
<polygon points="206.4,443.9 206.9,446.0 208.0,446.4 207.5,444.4" fill="#0b4f9c"/>
<polygon points="336.3,453.6 336.9,456.1 338.5,456.4 341.5,457.0 343.1,457.1 343.4,454.6 342.0,452.1 338.8,452.1 336.7,452.6" fill="#0b4f9c"/>
<polygon points="366.6,454.7 369.8,455.8 373.5,457.0 374.9,458.7 371.9,459.2 368.7,458.2 365.5,456.2" fill="#0b4f9c"/>
<polygon points="322.8,449.0 324.9,450.0 326.5,452.6 325.5,452.1" fill="#0b4f9c"/>
<polygon points="367.7,455.1 370.9,456.2 373.0,457.7 369.8,457.2" fill="#0b4f9c"/>
<polygon points="318.0,427.5 319.6,427.0 319.1,428.5" fill="#0b4f9c"/>
<polygon points="144.4,454.1 148.7,453.1 151.9,455.1 149.8,457.2 145.5,456.7" fill="#2b78bd"/>
<polygon points="153.0,459.2 156.2,458.2 157.3,460.3 154.1,462.3" fill="#2b78bd"/>
<polygon points="140.2,459.2 143.4,458.2 144.4,461.3 141.2,462.3" fill="#2b78bd"/>
<polygon points="147.6,450.5 150.8,451.1 151.9,452.6 148.7,452.3" fill="#2b78bd"/>
<polygon points="165.8,465.4 170.1,464.4 171.1,468.5 166.9,469.5" fill="#93bfe1"/>
<polygon points="159.4,470.5 163.7,470.0 163.1,474.1 158.9,473.6" fill="#93bfe1"/>
<polygon points="170.1,458.2 172.2,457.7 172.2,461.3 169.5,461.3" fill="#93bfe1"/>
<polygon points="161.5,477.7 164.7,477.2 165.8,479.7 162.6,480.7" fill="#2b78bd"/>
<polygon points="157.3,463.3 160.5,462.3 161.5,465.4 158.3,466.4" fill="#2b78bd"/>
<polygon points="269.4,407.0 272.6,405.2 275.8,405.0 275.8,407.0 274.2,407.5 275.3,409.6 275.8,411.1 276.9,414.2 276.3,415.2 273.1,415.2 271.5,413.9 272.1,411.8 270.5,410.1 269.9,409.1" fill="#ffffff"/>
<polygon points="281.7,406.0 284.9,405.2 284.9,407.5 282.2,408.6" fill="#ffffff"/>
<polygon points="85.7,529.2 112.4,528.3 128.4,528.8 137.0,528.4 133.8,531.4 112.4,531.1 85.7,531.3" fill="#bcd6ec"/>
<polygon points="133.8,529.4 153.0,528.7 155.1,530.9 171.1,533.0 185.0,532.8 181.8,535.0 171.1,536.6 160.5,537.4 149.8,536.6 139.1,535.0" fill="#ffffff"/>
<polygon points="158.3,517.9 156.7,519.5 154.6,521.2 153.0,523.2 151.9,525.3 152.4,527.9 148.7,528.9 143.4,528.4 139.1,528.1 143.4,526.8 146.6,524.8 148.7,522.7 151.4,520.7 154.6,518.9" fill="#f2f7fc" stroke="#aab8c6" stroke-width="0.4"/>
</g>
<line x1="27.3" y1="391.7" x2="411.2" y2="391.7" stroke="#c8c8c8" stroke-width="0.4" stroke-dasharray="1 1" opacity="0.45"/>
<line x1="27.3" y1="422.4" x2="411.2" y2="422.4" stroke="#c8c8c8" stroke-width="0.4" stroke-dasharray="1 1" opacity="0.45"/>
<line x1="27.3" y1="453.1" x2="411.2" y2="453.1" stroke="#c8c8c8" stroke-width="0.4" stroke-dasharray="1 1" opacity="0.45"/>
<line x1="27.3" y1="483.8" x2="411.2" y2="483.8" stroke="#c8c8c8" stroke-width="0.4" stroke-dasharray="1 1" opacity="0.45"/>
<line x1="27.3" y1="514.5" x2="411.2" y2="514.5" stroke="#c8c8c8" stroke-width="0.4" stroke-dasharray="1 1" opacity="0.45"/>
<line x1="91.0" y1="360.9" x2="91.0" y2="543.5" stroke="#c8c8c8" stroke-width="0.4" stroke-dasharray="1 1" opacity="0.45"/>
<line x1="155.1" y1="360.9" x2="155.1" y2="543.5" stroke="#c8c8c8" stroke-width="0.4" stroke-dasharray="1 1" opacity="0.45"/>
<line x1="219.2" y1="360.9" x2="219.2" y2="543.5" stroke="#c8c8c8" stroke-width="0.4" stroke-dasharray="1 1" opacity="0.45"/>
<line x1="283.3" y1="360.9" x2="283.3" y2="543.5" stroke="#c8c8c8" stroke-width="0.4" stroke-dasharray="1 1" opacity="0.45"/>
<line x1="347.4" y1="360.9" x2="347.4" y2="543.5" stroke="#c8c8c8" stroke-width="0.4" stroke-dasharray="1 1" opacity="0.45"/>
<rect x="27.3" y="360.9" width="383.9" height="182.6" fill="none" stroke="#555" stroke-width="0.9"/>
<text x="23.2" y="394.5" font-size="8.4" text-anchor="end" fill="#333">60° N</text>
<text x="23.2" y="425.6" font-size="8.4" text-anchor="end" fill="#333">30° N</text>
<text x="23.2" y="456.4" font-size="8.4" text-anchor="end" fill="#333">0°</text>
<text x="23.2" y="486.6" font-size="8.4" text-anchor="end" fill="#333">30° S</text>
<text x="23.2" y="517.2" font-size="8.4" text-anchor="end" fill="#333">60° S</text>
<text x="27.3" y="555.8" font-size="8.3" text-anchor="middle" fill="#333">180°</text>
<text x="91.0" y="555.8" font-size="8.3" text-anchor="middle" fill="#333">120° W</text>
<text x="155.1" y="555.8" font-size="8.3" text-anchor="middle" fill="#333">60° W</text>
<text x="219.6" y="555.8" font-size="8.3" text-anchor="middle" fill="#333">0°</text>
<text x="283.5" y="555.8" font-size="8.3" text-anchor="middle" fill="#333">60° E</text>
<text x="347.6" y="555.8" font-size="8.3" text-anchor="middle" fill="#333">120° E</text>
<text x="411.3" y="555.8" font-size="8.3" text-anchor="middle" fill="#333">180°</text>
<text x="36.8" y="450.5" font-size="9.1" text-anchor="start" fill="#333">Precipitation (mm)</text>
<rect x="48.3" y="455.4" width="5.6" height="11.0" fill="#d8e7f5"/>
<rect x="48.3" y="466.4" width="5.6" height="10.800000000000011" fill="#bcd6ec"/>
<rect x="48.3" y="477.2" width="5.6" height="11.0" fill="#93bfe1"/>
<rect x="48.3" y="488.2" width="5.6" height="10.900000000000034" fill="#5a9fd2"/>
<rect x="48.3" y="499.1" width="5.6" height="10.899999999999977" fill="#2b78bd"/>
<rect x="48.3" y="510" width="5.6" height="11.700000000000045" fill="#0b4f9c"/>
<rect x="48.3" y="455.4" width="5.6" height="66.3" fill="none" stroke="#555" stroke-width="0.6"/>
<text x="57.8" y="463.3" font-size="7.5" text-anchor="start" fill="#333">&lt;500</text>
<text x="57.8" y="474.8" font-size="7.5" text-anchor="start" fill="#333">500–1,000</text>
<text x="57.8" y="485.5" font-size="7.5" text-anchor="start" fill="#333">1,000–1,500</text>
<text x="57.8" y="496.20000000000005" font-size="7.5" text-anchor="start" fill="#333">1,500–2,000</text>
<text x="57.8" y="507.20000000000005" font-size="7.5" text-anchor="start" fill="#333">2,000–2,500</text>
<text x="57.8" y="517.9" font-size="7.5" text-anchor="start" fill="#333">&gt;2,500</text>
<rect x="169.2" y="511.2" width="7.5" height="7" fill="#fbb917"/>
<text x="181.5" y="517.6" font-size="7.6" text-anchor="start" fill="#222" font-style="italic">SBRR1-R</text>
<rect x="237" y="511.2" width="7.5" height="7" fill="#35c77b"/>
<text x="249.3" y="517.6" font-size="7.6" text-anchor="start" fill="#222" font-style="italic">SBRR1-S</text>
<circle cx="128" cy="412.1" r="5.2" fill="#fbbb16"/><path d="M128,412.1 L133.20,412.10 A5.2,5.2 0 1 1 123.25,409.98 Z" fill="#3ec97a"/>
<circle cx="230" cy="398.6" r="2.8" fill="#fbbb16"/><path d="M230,398.6 L232.78,398.89 A2.8,2.8 0 1 1 232.58,397.51 Z" fill="#3ec97a"/>
<circle cx="256.1" cy="398.6" r="4.9" fill="#fbbb16"/><path d="M256.1,398.6 L261.00,398.77 A4.9,4.9 0 1 1 260.96,398.00 Z" fill="#3ec97a"/>
<circle cx="273" cy="424.9" r="2.2" fill="#fbbb16"/><path d="M273,424.9 L275.19,424.75 A2.2,2.2 0 0 1 270.96,425.72 Z" fill="#3ec97a"/>
<circle cx="237.8" cy="453.1" r="5.6" fill="#fbbb16"/><path d="M237.8,453.1 L243.39,452.81 A5.6,5.6 0 0 1 232.57,455.11 Z" fill="#3ec97a"/>
<circle cx="304.9" cy="431.7" r="6.0" fill="#fbbb16"/><path d="M304.9,431.7 L310.88,431.18 A6.0,6.0 0 0 1 306.17,437.56 Z" fill="#3ec97a"/>
<circle cx="338.5" cy="423.7" r="6.3" fill="#fbbb16"/><path d="M338.5,423.7 L344.79,423.33 A6.3,6.3 0 0 1 332.54,425.74 Z" fill="#3ec97a"/>
<circle cx="343.9" cy="443.2" r="6.9" fill="#fbbb16"/><path d="M343.9,443.2 L350.80,442.96 A6.9,6.9 0 0 1 341.59,449.70 Z" fill="#3ec97a"/>
<circle cx="358.6" cy="475.9" r="3.4" fill="#fbbb16"/><path d="M358.6,475.9 L362.00,475.72 A3.4,3.4 0 1 1 358.64,472.50 Z" fill="#3ec97a"/>
<text x="352.8" y="9.2" font-size="11.5" text-anchor="start" fill="#000" font-weight="bold">d</text>
<line x1="410.4" y1="14.9" x2="410.4" y2="160.6" stroke="#e6e6e6" stroke-width="0.8"/>
<line x1="410.4" y1="160.6" x2="410.4" y2="163.1" stroke="#555" stroke-width="0.7"/>
<text x="410.4" y="172.6" font-size="7.3" text-anchor="middle" fill="#333">1 Mb</text>
<line x1="447.2" y1="14.9" x2="447.2" y2="160.6" stroke="#e6e6e6" stroke-width="0.8"/>
<line x1="447.2" y1="160.6" x2="447.2" y2="163.1" stroke="#555" stroke-width="0.7"/>
<text x="447.2" y="172.6" font-size="7.3" text-anchor="middle" fill="#333">5 Mb</text>
<line x1="484.0" y1="14.9" x2="484.0" y2="160.6" stroke="#e6e6e6" stroke-width="0.8"/>
<line x1="484.0" y1="160.6" x2="484.0" y2="163.1" stroke="#555" stroke-width="0.7"/>
<text x="484.0" y="172.6" font-size="7.3" text-anchor="middle" fill="#333">9 Mb</text>
<line x1="520.8" y1="14.9" x2="520.8" y2="160.6" stroke="#e6e6e6" stroke-width="0.8"/>
<line x1="520.8" y1="160.6" x2="520.8" y2="163.1" stroke="#555" stroke-width="0.7"/>
<text x="520.8" y="172.6" font-size="7.3" text-anchor="middle" fill="#333">13 Mb</text>
<line x1="557.5999999999999" y1="14.9" x2="557.5999999999999" y2="160.6" stroke="#e6e6e6" stroke-width="0.8"/>
<line x1="557.5999999999999" y1="160.6" x2="557.5999999999999" y2="163.1" stroke="#555" stroke-width="0.7"/>
<text x="557.5999999999999" y="172.6" font-size="7.3" text-anchor="middle" fill="#333">17 Mb</text>
<line x1="594.4" y1="14.9" x2="594.4" y2="160.6" stroke="#e6e6e6" stroke-width="0.8"/>
<line x1="594.4" y1="160.6" x2="594.4" y2="163.1" stroke="#555" stroke-width="0.7"/>
<text x="594.4" y="172.6" font-size="7.3" text-anchor="middle" fill="#333">21 Mb</text>
<line x1="631.1999999999999" y1="14.9" x2="631.1999999999999" y2="160.6" stroke="#e6e6e6" stroke-width="0.8"/>
<line x1="631.1999999999999" y1="160.6" x2="631.1999999999999" y2="163.1" stroke="#555" stroke-width="0.7"/>
<text x="631.1999999999999" y="172.6" font-size="7.3" text-anchor="middle" fill="#333">25 Mb</text>
<line x1="668.0" y1="14.9" x2="668.0" y2="160.6" stroke="#e6e6e6" stroke-width="0.8"/>
<line x1="668.0" y1="160.6" x2="668.0" y2="163.1" stroke="#555" stroke-width="0.7"/>
<text x="668.0" y="172.6" font-size="7.3" text-anchor="middle" fill="#333">29 Mb</text>
<line x1="392.2" y1="159.6" x2="683.4" y2="159.6" stroke="#e6e6e6" stroke-width="0.8"/>
<line x1="389.7" y1="159.6" x2="392.2" y2="159.6" stroke="#555" stroke-width="0.7"/>
<text x="387.5" y="162.2" font-size="7.3" text-anchor="end" fill="#333">0</text>
<line x1="392.2" y1="109.2" x2="683.4" y2="109.2" stroke="#e6e6e6" stroke-width="0.8"/>
<line x1="389.7" y1="109.2" x2="392.2" y2="109.2" stroke="#555" stroke-width="0.7"/>
<text x="387.5" y="111.8" font-size="7.3" text-anchor="end" fill="#333">0.5</text>
<line x1="392.2" y1="59.1" x2="683.4" y2="59.1" stroke="#e6e6e6" stroke-width="0.8"/>
<line x1="389.7" y1="59.1" x2="392.2" y2="59.1" stroke="#555" stroke-width="0.7"/>
<text x="387.5" y="61.7" font-size="7.3" text-anchor="end" fill="#333">1.0</text>
<rect x="392.2" y="14.9" width="291.2" height="145.7" fill="none" stroke="#c2c2c2" stroke-width="1.3"/>
<text x="363.5" y="88" font-size="8.3" fill="#333" text-anchor="middle" transform="rotate(-90 363.5 88)"><tspan font-style="italic">π</tspan> ratio</text>
<polyline points="405.4,153.5 408.3,154.5 412.0,148.6 415.4,147.2 418.7,144.2 421.6,145.7 425.3,140.5 432.7,122.1 434.9,85.9 438.9,77.9 442.4,56.6 445.6,40.6 448.8,24.1 452.2,89.9 455.2,96.0 458.9,83.7 462.7,85.3 465.9,82.7 469.0,72.0 472.0,99.2 475.4,116.5 479.2,107.2 482.4,114.6 485.6,115.1 488.7,141.8 492.5,145.8 495.7,133.8 499.4,128.5 502.6,135.1 505.8,141.8 509.5,137.0 512.7,139.6 515.9,145.8 519.1,139.1 522.8,142.3 526.0,137.8 528.2,145.8 531.7,151.9 535.6,150.3 539.6,140.4 543.1,138.6 546.3,149.7 549.5,147.1 552.7,122.6 556.4,73.1 559.6,85.9 563.1,96.0 566.3,51.8 569.7,59.8 572.9,97.8 576.4,124.5 579.6,120.5 583.0,103.2 586.2,62.4 589.7,64.0 593.2,99.2 596.7,120.5 600.1,77.9 603.3,55.3 606.5,65.1 609.7,55.3 612.9,53.4 616.1,61.9 619.3,65.9 622.5,67.8 626.2,47.3 629.9,61.4 633.7,27.8 636.8,56.6 640.0,112.5 643.2,89.9 646.4,95.2 650.1,95.2 653.3,92.5 656.5,85.3 659.7,72.6 663.4,120.5 666.6,113.8 670.4,104.0" fill="none" stroke="#f07268" stroke-width="1.3" stroke-linejoin="round"/>
<polyline points="405.6,104.0 408.3,93.9 411.6,136.8 415.4,150.1 418.7,128.7 424.8,69.9 428.5,40.6 431.7,46.5 434.9,75.2 438.1,79.2 441.8,87.2 445.0,22.5 448.2,59.2 451.7,83.7 455.7,80.0 459.0,35.3 461.5,37.4 465.9,50.7 469.0,26.8 472.0,59.2 475.4,83.2 479.2,41.9 482.4,64.6 485.6,48.6 488.7,40.6 492.5,68.6 495.7,72.0 499.4,49.9 502.6,45.4 505.8,67.2 509.5,95.2 512.2,92.5 515.9,111.2 519.1,89.9 522.8,107.2 526.0,82.7 529.0,78.4 532.5,61.9 535.6,59.8 539.4,73.9 543.1,85.9 546.3,69.9 549.5,53.9 552.7,72.0 555.9,69.9 559.6,55.3 562.8,62.4 566.3,32.1 569.7,24.1 572.9,21.5 576.1,27.3 579.6,40.6 583.0,55.3 586.2,51.3 589.7,31.3 593.2,60.6 596.4,59.2 600.1,38.5 603.3,57.9 606.5,72.6 609.7,64.6 612.9,43.3 616.1,41.9 619.3,55.3 623.0,42.7 626.7,60.6 630.5,104.5 633.7,43.3 636.8,40.1 640.0,92.5 643.2,69.9 646.4,67.2 649.6,69.9 653.3,75.8 656.5,77.3 659.7,72.6 663.4,116.5 666.6,81.9 670.4,64.0" fill="none" stroke="#18b8c4" stroke-width="1.4" stroke-linejoin="round"/>
<line x1="453" y1="15.4" x2="453" y2="160.6" stroke="#e83232" stroke-width="1.5" stroke-dasharray="2.4 1.6"/>
<line x1="400" y1="7" x2="408.3" y2="7" stroke="#18b8c4" stroke-width="1.4"/>
<text x="412" y="10" font-size="9.1" text-anchor="start" fill="#222" font-style="italic">O. sativa indica/O. rufipogon</text>
<line x1="539.2" y1="7" x2="547" y2="7" stroke="#f07268" stroke-width="1.4"/>
<text x="551.8" y="10" font-size="9.0" text-anchor="start" fill="#222" font-style="italic">O. sativa japonica/O. rufipogon</text>
<text x="352.8" y="190.8" font-size="11.5" text-anchor="start" fill="#000" font-weight="bold">e</text>
<line x1="391.8" y1="191.3" x2="391.8" y2="258.5" stroke="#555" stroke-width="0.8"/>
<line x1="389.0" y1="193.9" x2="391.8" y2="193.9" stroke="#555" stroke-width="0.7"/>
<text x="387.5" y="196.5" font-size="7.3" text-anchor="end" fill="#333">5.0</text>
<line x1="389.0" y1="209.4" x2="391.8" y2="209.4" stroke="#555" stroke-width="0.7"/>
<text x="387.5" y="212.0" font-size="7.3" text-anchor="end" fill="#333">2.5</text>
<line x1="389.0" y1="224.9" x2="391.8" y2="224.9" stroke="#555" stroke-width="0.7"/>
<text x="387.5" y="227.5" font-size="7.3" text-anchor="end" fill="#333">0</text>
<line x1="389.0" y1="240.3" x2="391.8" y2="240.3" stroke="#555" stroke-width="0.7"/>
<text x="387.5" y="242.9" font-size="7.3" text-anchor="end" fill="#333">−2.5</text>
<line x1="389.0" y1="255.9" x2="391.8" y2="255.9" stroke="#555" stroke-width="0.7"/>
<text x="387.5" y="258.5" font-size="7.3" text-anchor="end" fill="#333">−5.0</text>
<line x1="391.8" y1="225.1" x2="680.3" y2="225.1" stroke="#8c8c8c" stroke-width="0.9"/>
<line x1="413.8" y1="225.1" x2="413.8" y2="227.3" stroke="#666" stroke-width="0.6"/>
<line x1="450.2" y1="225.1" x2="450.2" y2="227.3" stroke="#666" stroke-width="0.6"/>
<line x1="486.6" y1="225.1" x2="486.6" y2="227.3" stroke="#666" stroke-width="0.6"/>
<line x1="523.0" y1="225.1" x2="523.0" y2="227.3" stroke="#666" stroke-width="0.6"/>
<line x1="559.4" y1="225.1" x2="559.4" y2="227.3" stroke="#666" stroke-width="0.6"/>
<line x1="595.8" y1="225.1" x2="595.8" y2="227.3" stroke="#666" stroke-width="0.6"/>
<line x1="632.2" y1="225.1" x2="632.2" y2="227.3" stroke="#666" stroke-width="0.6"/>
<line x1="668.6" y1="225.1" x2="668.6" y2="227.3" stroke="#666" stroke-width="0.6"/>
<text x="369" y="225" font-size="8.3" fill="#333" text-anchor="middle" transform="rotate(-90 369 225)">Tajima’s <tspan font-style="italic">D</tspan></text>
<circle cx="404.6" cy="239.6" r="2.35" fill="#66d6a0" fill-opacity="0.85"/>
<circle cx="408.6" cy="232.9" r="2.35" fill="#66d6a0" fill-opacity="0.85"/>
<circle cx="411.9" cy="236.1" r="2.35" fill="#66d6a0" fill-opacity="0.85"/>
<circle cx="415.9" cy="235.1" r="2.35" fill="#66d6a0" fill-opacity="0.85"/>
<circle cx="419.4" cy="236.1" r="2.35" fill="#66d6a0" fill-opacity="0.85"/>
<circle cx="423.1" cy="238.8" r="2.35" fill="#66d6a0" fill-opacity="0.85"/>
<circle cx="426.8" cy="232.4" r="2.35" fill="#66d6a0" fill-opacity="0.85"/>
<circle cx="430.7" cy="232.9" r="2.35" fill="#66d6a0" fill-opacity="0.85"/>
<circle cx="433.9" cy="222.3" r="2.35" fill="#66d6a0" fill-opacity="0.85"/>
<circle cx="437.1" cy="211.5" r="2.35" fill="#66d6a0" fill-opacity="0.85"/>
<circle cx="441.3" cy="203" r="2.35" fill="#66d6a0" fill-opacity="0.85"/>
<circle cx="444.8" cy="204.3" r="2.35" fill="#66d6a0" fill-opacity="0.85"/>
<circle cx="448.5" cy="199.8" r="2.35" fill="#66d6a0" fill-opacity="0.85"/>
<circle cx="452" cy="222.7" r="2.35" fill="#66d6a0" fill-opacity="0.85"/>
<circle cx="459.2" cy="224.3" r="2.35" fill="#66d6a0" fill-opacity="0.85"/>
<circle cx="462.9" cy="214.2" r="2.35" fill="#66d6a0" fill-opacity="0.85"/>
<circle cx="466.9" cy="218.7" r="2.35" fill="#66d6a0" fill-opacity="0.85"/>
<circle cx="470.2" cy="225.1" r="2.35" fill="#66d6a0" fill-opacity="0.85"/>
<circle cx="474" cy="228.4" r="2.35" fill="#66d6a0" fill-opacity="0.85"/>
<circle cx="477.7" cy="231.6" r="2.35" fill="#66d6a0" fill-opacity="0.85"/>
<circle cx="481.4" cy="229.2" r="2.35" fill="#66d6a0" fill-opacity="0.85"/>
<circle cx="484.9" cy="228.7" r="2.35" fill="#66d6a0" fill-opacity="0.85"/>
<circle cx="488.5" cy="239.6" r="2.35" fill="#66d6a0" fill-opacity="0.85"/>
<circle cx="492.2" cy="239.3" r="2.35" fill="#66d6a0" fill-opacity="0.85"/>
<circle cx="495.9" cy="234.5" r="2.35" fill="#66d6a0" fill-opacity="0.85"/>
<circle cx="499.7" cy="234.8" r="2.35" fill="#66d6a0" fill-opacity="0.85"/>
<circle cx="503.2" cy="237.2" r="2.35" fill="#66d6a0" fill-opacity="0.85"/>
<circle cx="506.7" cy="231.6" r="2.35" fill="#66d6a0" fill-opacity="0.85"/>
<circle cx="510.4" cy="230.8" r="2.35" fill="#66d6a0" fill-opacity="0.85"/>
<circle cx="514.1" cy="231.9" r="2.35" fill="#66d6a0" fill-opacity="0.85"/>
<circle cx="517.7" cy="233.2" r="2.35" fill="#66d6a0" fill-opacity="0.85"/>
<circle cx="521.2" cy="231.6" r="2.35" fill="#66d6a0" fill-opacity="0.85"/>
<circle cx="524.9" cy="231.6" r="2.35" fill="#66d6a0" fill-opacity="0.85"/>
<circle cx="528.6" cy="238.8" r="2.35" fill="#66d6a0" fill-opacity="0.85"/>
<circle cx="532.1" cy="240.9" r="2.35" fill="#66d6a0" fill-opacity="0.85"/>
<circle cx="536.1" cy="239.6" r="2.35" fill="#66d6a0" fill-opacity="0.85"/>
<circle cx="539.7" cy="231.6" r="2.35" fill="#66d6a0" fill-opacity="0.85"/>
<circle cx="543" cy="240.4" r="2.35" fill="#66d6a0" fill-opacity="0.85"/>
<circle cx="546.9" cy="239.9" r="2.35" fill="#66d6a0" fill-opacity="0.85"/>
<circle cx="550.6" cy="231.1" r="2.35" fill="#66d6a0" fill-opacity="0.85"/>
<circle cx="554.3" cy="214.4" r="2.35" fill="#66d6a0" fill-opacity="0.85"/>
<circle cx="557.8" cy="218.7" r="2.35" fill="#66d6a0" fill-opacity="0.85"/>
<circle cx="561.3" cy="214.7" r="2.35" fill="#66d6a0" fill-opacity="0.85"/>
<circle cx="565" cy="213.1" r="2.35" fill="#66d6a0" fill-opacity="0.85"/>
<circle cx="568.7" cy="214.2" r="2.35" fill="#66d6a0" fill-opacity="0.85"/>
<circle cx="572.3" cy="234.5" r="2.35" fill="#66d6a0" fill-opacity="0.85"/>
<circle cx="575.8" cy="232.9" r="2.35" fill="#66d6a0" fill-opacity="0.85"/>
<circle cx="580" cy="231.9" r="2.35" fill="#66d6a0" fill-opacity="0.85"/>
<circle cx="583.2" cy="214.2" r="2.35" fill="#66d6a0" fill-opacity="0.85"/>
<circle cx="586.7" cy="212" r="2.35" fill="#66d6a0" fill-opacity="0.85"/>
<circle cx="590.3" cy="230.1" r="2.35" fill="#66d6a0" fill-opacity="0.85"/>
<circle cx="594.3" cy="232.2" r="2.35" fill="#66d6a0" fill-opacity="0.85"/>
<circle cx="597.8" cy="219.8" r="2.35" fill="#66d6a0" fill-opacity="0.85"/>
<circle cx="601.5" cy="219.3" r="2.35" fill="#66d6a0" fill-opacity="0.85"/>
<circle cx="604.7" cy="219.3" r="2.35" fill="#66d6a0" fill-opacity="0.85"/>
<circle cx="608.7" cy="215" r="2.35" fill="#66d6a0" fill-opacity="0.85"/>
<circle cx="612.4" cy="222.1" r="2.35" fill="#66d6a0" fill-opacity="0.85"/>
<circle cx="616.1" cy="208.9" r="2.35" fill="#66d6a0" fill-opacity="0.85"/>
<circle cx="619.6" cy="215.3" r="2.35" fill="#66d6a0" fill-opacity="0.85"/>
<circle cx="623.2" cy="206" r="2.35" fill="#66d6a0" fill-opacity="0.85"/>
<circle cx="627.2" cy="206.5" r="2.35" fill="#66d6a0" fill-opacity="0.85"/>
<circle cx="630.4" cy="214.5" r="2.35" fill="#66d6a0" fill-opacity="0.85"/>
<circle cx="634.1" cy="210.5" r="2.35" fill="#66d6a0" fill-opacity="0.85"/>
<circle cx="638" cy="218.5" r="2.35" fill="#66d6a0" fill-opacity="0.85"/>
<circle cx="641.3" cy="213.7" r="2.35" fill="#66d6a0" fill-opacity="0.85"/>
<circle cx="645.3" cy="221.4" r="2.35" fill="#66d6a0" fill-opacity="0.85"/>
<circle cx="648.9" cy="219.3" r="2.35" fill="#66d6a0" fill-opacity="0.85"/>
<circle cx="652.6" cy="216.9" r="2.35" fill="#66d6a0" fill-opacity="0.85"/>
<circle cx="656.1" cy="209.2" r="2.35" fill="#66d6a0" fill-opacity="0.85"/>
<circle cx="659.8" cy="209.7" r="2.35" fill="#66d6a0" fill-opacity="0.85"/>
<circle cx="663" cy="223" r="2.35" fill="#66d6a0" fill-opacity="0.85"/>
<circle cx="667.3" cy="225.8" r="2.35" fill="#66d6a0" fill-opacity="0.85"/>
<path d="M405.0,237.7 C406.0,237.2 409.0,235.1 411.1,234.8 C413.2,234.5 415.6,235.8 417.5,236.1 C419.4,236.4 420.7,236.9 422.3,236.7 C423.9,236.5 425.6,236.1 427.1,234.8 C428.6,233.6 429.9,231.8 431.1,229.2 C432.3,226.6 433.2,222.9 434.3,219.5 C435.4,216.1 436.8,211.5 438.0,208.8 C439.2,206.1 440.5,204.8 441.6,203.5 C442.7,202.2 443.4,200.6 444.5,201.1 C445.6,201.6 446.8,204.4 448.0,206.7 C449.2,209.0 450.7,212.2 452.0,214.7 C453.3,217.2 454.5,220.8 455.7,221.6 C456.9,222.4 457.8,220.1 459.2,219.5 C460.6,218.9 462.8,217.9 464.1,217.9 C465.5,217.9 466.2,218.4 467.3,219.5 C468.4,220.6 469.4,223.0 470.5,224.3 C471.6,225.7 472.5,226.7 473.7,227.6 C474.9,228.5 476.4,229.6 477.7,230.0 C479.0,230.4 480.5,229.6 481.7,230.0 C482.9,230.4 483.8,231.3 484.9,232.4 C486.0,233.5 487.0,235.4 488.1,236.4 C489.2,237.4 490.2,238.3 491.4,238.3 C492.6,238.3 494.1,236.9 495.4,236.4 C496.7,235.9 498.1,235.8 499.4,235.6 C500.7,235.4 502.0,235.5 503.2,235.1 C504.4,234.7 505.5,233.5 506.7,232.9 C507.9,232.3 509.1,231.7 510.4,231.6 C511.7,231.5 512.8,232.4 514.5,232.5 C516.2,232.6 519.2,231.8 520.9,231.9 C522.6,232.0 523.6,232.4 524.9,233.2 C526.2,234.0 527.4,235.6 528.6,236.7 C529.8,237.8 530.9,239.4 532.1,239.6 C533.3,239.8 534.5,238.6 535.7,238.0 C536.9,237.4 538.1,236.1 539.3,236.1 C540.5,236.1 541.6,237.7 543.0,238.0 C544.4,238.3 546.0,239.3 547.4,237.7 C548.8,236.1 549.9,231.6 551.1,228.4 C552.3,225.2 553.4,220.8 554.6,218.7 C555.8,216.6 556.9,216.5 558.1,215.8 C559.3,215.1 560.7,215.2 561.8,214.7 C562.9,214.2 563.5,212.2 564.6,212.6 C565.8,213.0 567.4,214.6 568.7,217.1 C570.0,219.6 571.2,225.0 572.3,227.6 C573.4,230.2 574.5,232.2 575.5,232.9 C576.5,233.6 577.5,233.2 578.4,231.6 C579.3,230.0 580.1,226.2 581.1,223.5 C582.1,220.8 583.2,216.7 584.3,215.5 C585.4,214.3 586.4,214.4 587.5,216.3 C588.6,218.2 589.6,224.6 590.7,227.1 C591.8,229.6 592.9,231.8 594.0,231.1 C595.1,230.4 596.3,225.0 597.5,223.0 C598.7,221.0 599.8,220.2 601.0,219.3 C602.2,218.4 603.4,217.9 604.7,217.7 C606.0,217.5 607.2,218.5 608.7,218.2 C610.2,217.9 612.0,217.1 613.5,216.1 C615.0,215.1 616.5,213.3 618.0,212.1 C619.5,210.9 621.0,209.5 622.4,208.9 C623.8,208.3 625.1,208.2 626.4,208.6 C627.7,209.0 629.1,210.4 630.4,211.3 C631.7,212.2 633.1,213.4 634.4,214.0 C635.7,214.6 636.7,214.4 638.0,215.0 C639.3,215.6 640.8,216.9 642.1,217.7 C643.4,218.5 644.6,219.4 645.7,219.8 C646.8,220.2 647.8,220.7 648.9,220.1 C650.0,219.5 651.1,217.8 652.4,216.1 C653.7,214.4 655.5,210.7 656.9,210.2 C658.3,209.7 659.7,211.4 660.9,212.9 C662.1,214.4 663.0,217.0 664.1,219.3 C665.2,221.6 666.8,225.4 667.3,226.6" fill="none" stroke="#111" stroke-width="1.3"/>
<text x="675.5" y="193" font-size="8.4" text-anchor="end" fill="#222" font-style="italic">O. sativa japonica</text>
<line x1="391.2" y1="271.8" x2="391.2" y2="338.8" stroke="#555" stroke-width="0.8"/>
<line x1="388.40000000000003" y1="274.7" x2="391.2" y2="274.7" stroke="#555" stroke-width="0.7"/>
<text x="387" y="277.3" font-size="7.3" text-anchor="end" fill="#333">4</text>
<line x1="388.40000000000003" y1="290.2" x2="391.2" y2="290.2" stroke="#555" stroke-width="0.7"/>
<text x="387" y="292.8" font-size="7.3" text-anchor="end" fill="#333">2</text>
<line x1="388.40000000000003" y1="305.5" x2="391.2" y2="305.5" stroke="#555" stroke-width="0.7"/>
<text x="387" y="308.1" font-size="7.3" text-anchor="end" fill="#333">0</text>
<line x1="388.40000000000003" y1="321.1" x2="391.2" y2="321.1" stroke="#555" stroke-width="0.7"/>
<text x="387" y="323.70000000000005" font-size="7.3" text-anchor="end" fill="#333">−2</text>
<line x1="388.40000000000003" y1="336.7" x2="391.2" y2="336.7" stroke="#555" stroke-width="0.7"/>
<text x="387" y="339.3" font-size="7.3" text-anchor="end" fill="#333">−4</text>
<line x1="391.8" y1="305.3" x2="680.8" y2="305.3" stroke="#8c8c8c" stroke-width="0.9"/>
<line x1="414.5" y1="305.3" x2="414.5" y2="307.5" stroke="#666" stroke-width="0.6"/>
<line x1="451.3" y1="305.3" x2="451.3" y2="307.5" stroke="#666" stroke-width="0.6"/>
<line x1="488.1" y1="305.3" x2="488.1" y2="307.5" stroke="#666" stroke-width="0.6"/>
<line x1="524.9" y1="305.3" x2="524.9" y2="307.5" stroke="#666" stroke-width="0.6"/>
<line x1="561.7" y1="305.3" x2="561.7" y2="307.5" stroke="#666" stroke-width="0.6"/>
<line x1="598.5" y1="305.3" x2="598.5" y2="307.5" stroke="#666" stroke-width="0.6"/>
<line x1="635.3" y1="305.3" x2="635.3" y2="307.5" stroke="#666" stroke-width="0.6"/>
<line x1="672.0999999999999" y1="305.3" x2="672.0999999999999" y2="307.5" stroke="#666" stroke-width="0.6"/>
<text x="369" y="305" font-size="8.3" fill="#333" text-anchor="middle" transform="rotate(-90 369 305)">Tajima’s <tspan font-style="italic">D</tspan></text>
<circle cx="403.8" cy="293.6" r="2.35" fill="#fbbc0e" fill-opacity="0.9"/>
<circle cx="407.8" cy="281" r="2.35" fill="#fbbc0e" fill-opacity="0.9"/>
<circle cx="413.6" cy="313.9" r="2.35" fill="#fbbc0e" fill-opacity="0.9"/>
<circle cx="415.4" cy="321.7" r="2.35" fill="#fbbc0e" fill-opacity="0.9"/>
<circle cx="418.8" cy="303.4" r="2.35" fill="#fbbc0e" fill-opacity="0.9"/>
<circle cx="422.2" cy="292" r="2.35" fill="#fbbc0e" fill-opacity="0.9"/>
<circle cx="426.2" cy="278.9" r="2.35" fill="#fbbc0e" fill-opacity="0.9"/>
<circle cx="430.1" cy="277.6" r="2.35" fill="#fbbc0e" fill-opacity="0.9"/>
<circle cx="433.8" cy="293.6" r="2.35" fill="#fbbc0e" fill-opacity="0.9"/>
<circle cx="437.2" cy="290.2" r="2.35" fill="#fbbc0e" fill-opacity="0.9"/>
<circle cx="441.2" cy="296" r="2.35" fill="#fbbc0e" fill-opacity="0.9"/>
<circle cx="445.1" cy="278.4" r="2.35" fill="#fbbc0e" fill-opacity="0.9"/>
<circle cx="448.5" cy="292" r="2.35" fill="#fbbc0e" fill-opacity="0.9"/>
<circle cx="452.5" cy="295.5" r="2.35" fill="#fbbc0e" fill-opacity="0.9"/>
<circle cx="459.5" cy="290.2" r="2.35" fill="#fbbc0e" fill-opacity="0.9"/>
<circle cx="463" cy="285.7" r="2.35" fill="#fbbc0e" fill-opacity="0.9"/>
<circle cx="466.9" cy="284.4" r="2.35" fill="#fbbc0e" fill-opacity="0.9"/>
<circle cx="470.8" cy="287.1" r="2.35" fill="#fbbc0e" fill-opacity="0.9"/>
<circle cx="474.5" cy="297.6" r="2.35" fill="#fbbc0e" fill-opacity="0.9"/>
<circle cx="478.7" cy="289.4" r="2.35" fill="#fbbc0e" fill-opacity="0.9"/>
<circle cx="481.9" cy="284.4" r="2.35" fill="#fbbc0e" fill-opacity="0.9"/>
<circle cx="485.3" cy="282.3" r="2.35" fill="#fbbc0e" fill-opacity="0.9"/>
<circle cx="489.2" cy="286.3" r="2.35" fill="#fbbc0e" fill-opacity="0.9"/>
<circle cx="493.2" cy="293.6" r="2.35" fill="#fbbc0e" fill-opacity="0.9"/>
<circle cx="496.9" cy="298.6" r="2.35" fill="#fbbc0e" fill-opacity="0.9"/>
<circle cx="500.8" cy="291" r="2.35" fill="#fbbc0e" fill-opacity="0.9"/>
<circle cx="504.2" cy="292.8" r="2.35" fill="#fbbc0e" fill-opacity="0.9"/>
<circle cx="507.6" cy="300.7" r="2.35" fill="#fbbc0e" fill-opacity="0.9"/>
<circle cx="512.1" cy="292.8" r="2.35" fill="#fbbc0e" fill-opacity="0.9"/>
<circle cx="515" cy="292.3" r="2.35" fill="#fbbc0e" fill-opacity="0.9"/>
<circle cx="520" cy="294.7" r="2.35" fill="#fbbc0e" fill-opacity="0.9"/>
<circle cx="525.4" cy="292.3" r="2.35" fill="#fbbc0e" fill-opacity="0.9"/>
<circle cx="529.4" cy="296" r="2.35" fill="#fbbc0e" fill-opacity="0.9"/>
<circle cx="533.6" cy="276.1" r="2.35" fill="#fbbc0e" fill-opacity="0.9"/>
<circle cx="537.3" cy="293.5" r="2.35" fill="#fbbc0e" fill-opacity="0.9"/>
<circle cx="541.1" cy="296" r="2.35" fill="#fbbc0e" fill-opacity="0.9"/>
<circle cx="544.8" cy="294.7" r="2.35" fill="#fbbc0e" fill-opacity="0.9"/>
<circle cx="548.5" cy="284.3" r="2.35" fill="#fbbc0e" fill-opacity="0.9"/>
<circle cx="552.2" cy="296" r="2.35" fill="#fbbc0e" fill-opacity="0.9"/>
<circle cx="556" cy="296" r="2.35" fill="#fbbc0e" fill-opacity="0.9"/>
<circle cx="559.7" cy="289.3" r="2.35" fill="#fbbc0e" fill-opacity="0.9"/>
<circle cx="563.4" cy="283.6" r="2.35" fill="#fbbc0e" fill-opacity="0.9"/>
<circle cx="567.1" cy="288.5" r="2.35" fill="#fbbc0e" fill-opacity="0.9"/>
<circle cx="570.8" cy="279.9" r="2.35" fill="#fbbc0e" fill-opacity="0.9"/>
<circle cx="574.6" cy="288.5" r="2.35" fill="#fbbc0e" fill-opacity="0.9"/>
<circle cx="578.3" cy="292.3" r="2.35" fill="#fbbc0e" fill-opacity="0.9"/>
<circle cx="581.5" cy="300.2" r="2.35" fill="#fbbc0e" fill-opacity="0.9"/>
<circle cx="585.2" cy="290.3" r="2.35" fill="#fbbc0e" fill-opacity="0.9"/>
<circle cx="589" cy="284.1" r="2.35" fill="#fbbc0e" fill-opacity="0.9"/>
<circle cx="592.7" cy="299.7" r="2.35" fill="#fbbc0e" fill-opacity="0.9"/>
<circle cx="596.4" cy="291" r="2.35" fill="#fbbc0e" fill-opacity="0.9"/>
<circle cx="600.1" cy="285.6" r="2.35" fill="#fbbc0e" fill-opacity="0.9"/>
<circle cx="603.9" cy="301" r="2.35" fill="#fbbc0e" fill-opacity="0.9"/>
<circle cx="607.6" cy="298.5" r="2.35" fill="#fbbc0e" fill-opacity="0.9"/>
<circle cx="611.3" cy="296.7" r="2.35" fill="#fbbc0e" fill-opacity="0.9"/>
<circle cx="615" cy="296" r="2.35" fill="#fbbc0e" fill-opacity="0.9"/>
<circle cx="618.7" cy="290.3" r="2.35" fill="#fbbc0e" fill-opacity="0.9"/>
<circle cx="622.5" cy="285.6" r="2.35" fill="#fbbc0e" fill-opacity="0.9"/>
<circle cx="626.2" cy="292.3" r="2.35" fill="#fbbc0e" fill-opacity="0.9"/>
<circle cx="629.7" cy="303.4" r="2.35" fill="#fbbc0e" fill-opacity="0.9"/>
<circle cx="633.6" cy="299.2" r="2.35" fill="#fbbc0e" fill-opacity="0.9"/>
<circle cx="637.1" cy="284.3" r="2.35" fill="#fbbc0e" fill-opacity="0.9"/>
<circle cx="641.1" cy="289.3" r="2.35" fill="#fbbc0e" fill-opacity="0.9"/>
<circle cx="644.6" cy="285.6" r="2.35" fill="#fbbc0e" fill-opacity="0.9"/>
<circle cx="648.5" cy="291" r="2.35" fill="#fbbc0e" fill-opacity="0.9"/>
<circle cx="652.3" cy="292.3" r="2.35" fill="#fbbc0e" fill-opacity="0.9"/>
<circle cx="656" cy="292.8" r="2.35" fill="#fbbc0e" fill-opacity="0.9"/>
<circle cx="659.7" cy="289.8" r="2.35" fill="#fbbc0e" fill-opacity="0.9"/>
<circle cx="663.4" cy="291.8" r="2.35" fill="#fbbc0e" fill-opacity="0.9"/>
<circle cx="666.9" cy="289.8" r="2.35" fill="#fbbc0e" fill-opacity="0.9"/>
<circle cx="670.4" cy="297.2" r="2.35" fill="#fbbc0e" fill-opacity="0.9"/>
<path d="M404.4,286.3 C405.1,288.7 407.3,295.5 408.8,300.7 C410.3,305.9 412.0,316.4 413.6,317.3 C415.2,318.2 416.6,311.4 418.3,306.0 C420.0,300.6 422.1,289.5 423.6,285.0 C425.1,280.5 426.1,278.7 427.5,278.9 C428.9,279.1 430.3,283.8 432.0,286.3 C433.7,288.9 435.6,294.3 437.7,294.2 C439.8,294.1 442.8,286.8 444.6,285.7 C446.4,284.6 447.2,286.4 448.5,287.6 C449.8,288.8 451.4,292.1 452.5,292.8 C453.6,293.5 453.5,293.1 455.1,292.0 C456.7,290.9 460.2,287.6 462.2,286.3 C464.2,285.0 465.5,284.0 466.9,284.4 C468.3,284.8 469.5,287.3 470.8,288.9 C472.1,290.5 473.4,294.1 474.8,294.2 C476.2,294.3 477.9,291.2 479.3,289.4 C480.7,287.6 481.9,284.3 483.2,283.6 C484.5,282.9 485.8,283.9 487.1,285.0 C488.4,286.1 489.7,288.4 491.1,290.2 C492.5,291.9 494.0,294.9 495.5,295.5 C497.0,296.1 498.9,293.7 500.3,293.6 C501.8,293.5 502.9,294.1 504.2,294.7 C505.5,295.3 506.9,297.3 508.2,297.3 C509.5,297.3 510.8,295.3 512.1,294.7 C513.4,294.1 514.7,293.5 516.0,293.6 C517.3,293.7 518.4,295.3 520.0,295.5 C521.6,295.7 523.8,295.4 525.4,294.7 C527.0,293.9 528.1,292.5 529.4,291.0 C530.6,289.5 531.8,286.4 532.9,285.6 C534.0,284.8 534.7,284.7 536.1,286.1 C537.5,287.6 539.7,293.3 541.1,294.3 C542.5,295.3 543.6,293.1 544.8,292.3 C546.0,291.6 547.3,289.6 548.5,289.8 C549.7,290.0 550.8,293.0 552.2,293.5 C553.7,294.0 555.8,293.8 557.2,292.8 C558.7,291.9 559.5,289.1 560.9,287.8 C562.3,286.5 564.2,285.4 565.9,284.8 C567.5,284.2 569.3,283.7 570.8,284.1 C572.2,284.5 573.2,285.5 574.6,287.3 C576.0,289.1 577.9,293.2 579.0,294.7 C580.1,296.1 580.4,296.6 581.5,296.0 C582.6,295.4 584.4,292.0 585.7,291.0 C587.0,290.0 588.3,289.4 589.5,289.8 C590.7,290.2 591.7,293.1 592.7,293.5 C593.7,293.9 594.6,292.7 595.7,292.3 C596.8,291.9 598.2,290.4 599.4,291.0 C600.6,291.6 602.0,294.6 603.1,296.0 C604.2,297.4 605.0,298.9 606.3,299.2 C607.5,299.5 609.3,298.4 610.6,297.7 C611.9,296.9 612.9,295.9 614.3,294.7 C615.6,293.5 617.3,291.4 618.7,290.3 C620.1,289.2 621.2,287.3 622.5,288.0 C623.8,288.7 625.0,292.4 626.2,294.7 C627.4,297.0 628.5,301.7 629.7,301.7 C630.9,301.7 632.4,296.9 633.6,294.7 C634.8,292.5 636.0,289.9 637.1,288.5 C638.2,287.1 639.0,286.3 640.3,286.1 C641.5,285.9 643.1,286.7 644.6,287.3 C646.1,287.9 647.6,289.1 649.0,289.8 C650.4,290.6 651.5,291.4 652.8,291.8 C654.0,292.2 655.3,292.3 656.5,292.3 C657.7,292.3 659.0,292.0 660.2,291.8 C661.4,291.6 662.7,290.9 663.9,291.0 C665.1,291.1 666.5,291.6 667.6,292.3 C668.7,293.0 669.9,294.7 670.4,295.2" fill="none" stroke="#111" stroke-width="1.3"/>
<text x="413" y="318" font-size="7.3" text-anchor="middle" fill="#333" xml:space="preserve">1 Mb</text>
<text x="451" y="318" font-size="7.3" text-anchor="middle" fill="#333" xml:space="preserve">5 Mb</text>
<text x="487.5" y="318" font-size="7.3" text-anchor="middle" fill="#333" xml:space="preserve">9 Mb</text>
<text x="522.4" y="318" font-size="7.3" text-anchor="middle" fill="#333" xml:space="preserve">13 Mb</text>
<text x="561" y="318" font-size="7.3" text-anchor="middle" fill="#333" xml:space="preserve">17 Mb</text>
<text x="598" y="318" font-size="7.3" text-anchor="middle" fill="#333" xml:space="preserve">21 Mb</text>
<text x="631.7" y="318" font-size="7.3" text-anchor="middle" fill="#333" xml:space="preserve">25  Mb</text>
<text x="671.4" y="318" font-size="7.3" text-anchor="middle" fill="#333" xml:space="preserve">29 Mb</text>
<text x="676.3" y="275.3" font-size="8.4" text-anchor="end" fill="#222" font-style="italic">O. sativa indica</text>
<line x1="455.6" y1="186" x2="455.6" y2="338" stroke="#bb77f5" stroke-width="1.2" stroke-dasharray="2 1.5"/>
<circle cx="455.7" cy="219.2" r="2.3" fill="#8a1fe0"/>
<circle cx="455.6" cy="291.5" r="2.3" fill="#8a1fe0"/>
<defs><pattern id="h_pu" patternUnits="userSpaceOnUse" width="2.55" height="2.55" patternTransform="rotate(45)"><rect width="2.55" height="2.55" fill="#9600d6"/><rect width="1.0" height="2.55" fill="#fff"/></pattern><pattern id="f_pu" patternUnits="userSpaceOnUse" width="1.3" height="1.3" patternTransform="rotate(45)"><rect width="1.3" height="1.3" fill="#9600d6"/><rect width="0.45" height="1.3" fill="#fff" opacity="0.75"/></pattern><pattern id="h_or" patternUnits="userSpaceOnUse" width="2.55" height="2.55" patternTransform="rotate(45)"><rect width="2.55" height="2.55" fill="#f29b1d"/><rect width="1.0" height="2.55" fill="#fff"/></pattern><pattern id="f_or" patternUnits="userSpaceOnUse" width="1.3" height="1.3" patternTransform="rotate(45)"><rect width="1.3" height="1.3" fill="#f29b1d"/><rect width="0.45" height="1.3" fill="#fff" opacity="0.75"/></pattern><pattern id="h_gr" patternUnits="userSpaceOnUse" width="2.55" height="2.55" patternTransform="rotate(45)"><rect width="2.55" height="2.55" fill="#27bd4f"/><rect width="1.0" height="2.55" fill="#fff"/></pattern><pattern id="f_gr" patternUnits="userSpaceOnUse" width="1.3" height="1.3" patternTransform="rotate(45)"><rect width="1.3" height="1.3" fill="#27bd4f"/><rect width="0.45" height="1.3" fill="#fff" opacity="0.75"/></pattern><pattern id="h_cy" patternUnits="userSpaceOnUse" width="2.55" height="2.55" patternTransform="rotate(45)"><rect width="2.55" height="2.55" fill="#1fe0ee"/><rect width="1.0" height="2.55" fill="#fff"/></pattern><pattern id="f_cy" patternUnits="userSpaceOnUse" width="1.3" height="1.3" patternTransform="rotate(45)"><rect width="1.3" height="1.3" fill="#1fe0ee"/><rect width="0.45" height="1.3" fill="#fff" opacity="0.75"/></pattern><pattern id="h_bl" patternUnits="userSpaceOnUse" width="2.55" height="2.55" patternTransform="rotate(45)"><rect width="2.55" height="2.55" fill="#6aa6f4"/><rect width="1.0" height="2.55" fill="#fff"/></pattern><pattern id="f_bl" patternUnits="userSpaceOnUse" width="1.3" height="1.3" patternTransform="rotate(45)"><rect width="1.3" height="1.3" fill="#6aa6f4"/><rect width="0.45" height="1.3" fill="#fff" opacity="0.75"/></pattern><pattern id="h_gy" patternUnits="userSpaceOnUse" width="2.55" height="2.55" patternTransform="rotate(45)"><rect width="2.55" height="2.55" fill="#8a8a8a"/><rect width="1.0" height="2.55" fill="#fff"/></pattern><pattern id="f_gy" patternUnits="userSpaceOnUse" width="1.3" height="1.3" patternTransform="rotate(45)"><rect width="1.3" height="1.3" fill="#8a8a8a"/><rect width="0.45" height="1.3" fill="#fff" opacity="0.75"/></pattern></defs>
<text x="434.2" y="365.4" font-size="11.5" text-anchor="start" fill="#000" font-weight="bold">f</text>
<line x1="457.4" y1="365.8" x2="469.2" y2="386.3" stroke="#111" stroke-width="0.8"/>
<circle cx="459.62" cy="369.66" r="0.95" fill="#000"/>
<circle cx="461.08" cy="372.19" r="0.95" fill="#000"/>
<circle cx="462.54" cy="374.72" r="0.95" fill="#000"/>
<line x1="469.2" y1="386.3" x2="490.2" y2="369.0" stroke="#111" stroke-width="0.8"/>
<circle cx="479.55" cy="377.77" r="0.95" fill="#000"/>
<circle cx="481.89" cy="375.85" r="0.95" fill="#000"/>
<circle cx="484.23" cy="373.92" r="0.95" fill="#000"/>
<circle cx="486.56" cy="372.00" r="0.95" fill="#000"/>
<line x1="490.2" y1="369.0" x2="527.6" y2="377.8" stroke="#111" stroke-width="0.8"/>
<circle cx="494.63" cy="370.04" r="0.95" fill="#000"/>
<circle cx="497.27" cy="370.66" r="0.95" fill="#000"/>
<circle cx="499.91" cy="371.29" r="0.95" fill="#000"/>
<circle cx="502.55" cy="371.91" r="0.95" fill="#000"/>
<circle cx="505.19" cy="372.53" r="0.95" fill="#000"/>
<circle cx="507.83" cy="373.15" r="0.95" fill="#000"/>
<circle cx="510.47" cy="373.77" r="0.95" fill="#000"/>
<circle cx="513.11" cy="374.39" r="0.95" fill="#000"/>
<circle cx="515.75" cy="375.01" r="0.95" fill="#000"/>
<circle cx="518.39" cy="375.63" r="0.95" fill="#000"/>
<circle cx="521.02" cy="376.25" r="0.95" fill="#000"/>
<line x1="469.2" y1="386.3" x2="450.9" y2="415.4" stroke="#111" stroke-width="0.8"/>
<circle cx="461.49" cy="398.56" r="0.95" fill="#000"/>
<line x1="527.6" y1="377.8" x2="500.5" y2="406.2" stroke="#000" stroke-width="2.4"/>
<line x1="500.5" y1="406.2" x2="486.1" y2="443.5" stroke="#000" stroke-width="2.4"/>
<line x1="527.6" y1="377.8" x2="530.7" y2="418.6" stroke="#000" stroke-width="2.4"/>
<line x1="530.7" y1="418.6" x2="547.3" y2="437.4" stroke="#111" stroke-width="0.8"/>
<circle cx="536.17" cy="424.79" r="0.95" fill="#000"/>
<circle cx="538.11" cy="426.99" r="0.95" fill="#000"/>
<circle cx="540.04" cy="429.18" r="0.95" fill="#000"/>
<line x1="547.3" y1="437.4" x2="597.9" y2="443.7" stroke="#000" stroke-width="1.5"/>
<line x1="458.5" y1="449.3" x2="486.1" y2="443.5" stroke="#111" stroke-width="0.8"/>
<circle cx="466.53" cy="447.61" r="0.95" fill="#000"/>
<circle cx="469.46" cy="447.00" r="0.95" fill="#000"/>
<circle cx="472.40" cy="446.38" r="0.95" fill="#000"/>
<line x1="482.8" y1="466.1" x2="486.1" y2="443.5" stroke="#111" stroke-width="0.8"/>
<circle cx="483.95" cy="458.21" r="0.95" fill="#000"/>
<line x1="486.1" y1="443.5" x2="511.0" y2="464.0" stroke="#000" stroke-width="2.4"/>
<line x1="511.0" y1="464.0" x2="537.7" y2="491.1" stroke="#000" stroke-width="2.4"/>
<line x1="537.7" y1="491.1" x2="566.5" y2="513.0" stroke="#000" stroke-width="2.4"/>
<line x1="566.5" y1="513.0" x2="588.3" y2="525.7" stroke="#000" stroke-width="2.4"/>
<line x1="588.3" y1="525.7" x2="622.6" y2="537.8" stroke="#000" stroke-width="2.4"/>
<line x1="603.4" y1="364.5" x2="626.9" y2="367.2" stroke="#111" stroke-width="0.8"/>
<circle cx="608.05" cy="365.03" r="0.95" fill="#000"/>
<circle cx="611.01" cy="365.37" r="0.95" fill="#000"/>
<circle cx="613.96" cy="365.71" r="0.95" fill="#000"/>
<circle cx="616.91" cy="366.05" r="0.95" fill="#000"/>
<circle cx="619.86" cy="366.39" r="0.95" fill="#000"/>
<line x1="603.4" y1="364.5" x2="583.7" y2="381.5" stroke="#111" stroke-width="0.8"/>
<circle cx="599.95" cy="367.47" r="0.95" fill="#000"/>
<circle cx="597.91" cy="369.24" r="0.95" fill="#000"/>
<circle cx="595.86" cy="371.01" r="0.95" fill="#000"/>
<circle cx="593.81" cy="372.78" r="0.95" fill="#000"/>
<line x1="626.9" y1="367.2" x2="645.3" y2="389.6" stroke="#111" stroke-width="0.8"/>
<line x1="645.3" y1="389.6" x2="656.1" y2="369.9" stroke="#111" stroke-width="0.8"/>
<line x1="645.3" y1="389.6" x2="661.2" y2="410.4" stroke="#111" stroke-width="0.8"/>
<circle cx="647.92" cy="393.03" r="0.95" fill="#000"/>
<circle cx="649.52" cy="395.12" r="0.95" fill="#000"/>
<circle cx="651.12" cy="397.22" r="0.95" fill="#000"/>
<circle cx="652.73" cy="399.31" r="0.95" fill="#000"/>
<circle cx="654.33" cy="401.41" r="0.95" fill="#000"/>
<line x1="583.7" y1="381.5" x2="607.5" y2="399.0" stroke="#111" stroke-width="0.8"/>
<line x1="583.7" y1="381.5" x2="574.3" y2="405.8" stroke="#111" stroke-width="0.8"/>
<line x1="574.3" y1="405.8" x2="597.9" y2="443.7" stroke="#111" stroke-width="0.8"/>
<circle cx="579.78" cy="414.61" r="0.95" fill="#000"/>
<circle cx="581.24" cy="416.94" r="0.95" fill="#000"/>
<circle cx="582.69" cy="419.28" r="0.95" fill="#000"/>
<circle cx="584.14" cy="421.61" r="0.95" fill="#000"/>
<circle cx="585.60" cy="423.94" r="0.95" fill="#000"/>
<circle cx="587.05" cy="426.28" r="0.95" fill="#000"/>
<circle cx="588.50" cy="428.61" r="0.95" fill="#000"/>
<circle cx="589.96" cy="430.95" r="0.95" fill="#000"/>
<circle cx="591.41" cy="433.28" r="0.95" fill="#000"/>
<circle cx="592.87" cy="435.61" r="0.95" fill="#000"/>
<circle cx="594.32" cy="437.95" r="0.95" fill="#000"/>
<line x1="661.2" y1="410.4" x2="642.3" y2="427.4" stroke="#111" stroke-width="0.8"/>
<line x1="642.3" y1="427.4" x2="616.1" y2="430.6" stroke="#111" stroke-width="0.8"/>
<line x1="661.2" y1="410.4" x2="670.1" y2="432.5" stroke="#111" stroke-width="0.8"/>
<circle cx="665.53" cy="421.14" r="0.95" fill="#000"/>
<circle cx="666.71" cy="424.08" r="0.95" fill="#000"/>
<line x1="670.1" y1="432.5" x2="674.4" y2="452.5" stroke="#111" stroke-width="0.8"/>
<circle cx="672.03" cy="441.48" r="0.95" fill="#000"/>
<circle cx="672.74" cy="444.79" r="0.95" fill="#000"/>
<line x1="642.3" y1="427.4" x2="632.2" y2="453.0" stroke="#111" stroke-width="0.8"/>
<circle cx="637.68" cy="439.11" r="0.95" fill="#000"/>
<circle cx="636.52" cy="442.06" r="0.95" fill="#000"/>
<circle cx="635.35" cy="445.01" r="0.95" fill="#000"/>
<line x1="632.2" y1="453.0" x2="653.8" y2="460.0" stroke="#111" stroke-width="0.8"/>
<line x1="632.2" y1="453.0" x2="622.5" y2="472.2" stroke="#111" stroke-width="0.8"/>
<line x1="653.8" y1="460.0" x2="645.4" y2="474.3" stroke="#111" stroke-width="0.8"/>
<line x1="653.8" y1="460.0" x2="660.2" y2="472.2" stroke="#111" stroke-width="0.8"/>
<line x1="674.4" y1="452.5" x2="679.3" y2="474.3" stroke="#111" stroke-width="0.8"/>
<circle cx="676.05" cy="459.85" r="0.95" fill="#000"/>
<circle cx="676.63" cy="462.44" r="0.95" fill="#000"/>
<circle cx="677.22" cy="465.04" r="0.95" fill="#000"/>
<circle cx="677.80" cy="467.64" r="0.95" fill="#000"/>
<line x1="622.5" y1="472.2" x2="606.3" y2="494.0" stroke="#111" stroke-width="0.8"/>
<circle cx="616.54" cy="480.22" r="0.95" fill="#000"/>
<circle cx="614.76" cy="482.62" r="0.95" fill="#000"/>
<circle cx="612.98" cy="485.02" r="0.95" fill="#000"/>
<line x1="606.3" y1="494.0" x2="617.3" y2="511.5" stroke="#111" stroke-width="0.8"/>
<circle cx="457.4" cy="365.8" r="3.0" fill="url(#f_gr)"/>
<circle cx="490.2" cy="369.0" r="3.2" fill="#27bd4f"/>
<circle cx="469.2" cy="386.3" r="11.9" fill="url(#h_or)"/>
<path d="M469.2,386.3 L481.03,385.06 A11.9,11.9 0 0 1 481.09,385.88 Z" fill="#27bd4f"/>
<circle cx="450.9" cy="415.4" r="17.3" fill="url(#h_or)"/>
<path d="M450.9,415.4 L468.19,414.80 A17.3,17.3 0 0 1 468.20,415.40 Z" fill="#9600d6"/>
<path d="M450.9,415.4 L468.16,414.19 A17.3,17.3 0 0 1 468.19,414.80 Z" fill="#27bd4f"/>
<circle cx="527.6" cy="377.8" r="5.4" fill="url(#h_gr)"/>
<path d="M527.6,377.8 L527.60,372.40 A5.4,5.4 0 0 1 533.00,377.80 Z" fill="url(#h_cy)"/>
<circle cx="500.5" cy="406.2" r="3.3" fill="url(#f_cy)"/>
<circle cx="530.7" cy="418.6" r="6.8" fill="url(#h_pu)"/>
<path d="M530.7,418.6 L537.09,420.93 A6.8,6.8 0 0 1 528.37,424.99 Z" fill="url(#h_gr)"/>
<path d="M530.7,418.6 L528.37,424.99 A6.8,6.8 0 0 1 524.00,419.78 Z" fill="url(#h_bl)"/>
<circle cx="486.1" cy="443.5" r="12.5" fill="url(#h_pu)"/>
<path d="M486.1,443.5 L498.60,443.50 A12.5,12.5 0 0 1 486.10,456.00 Z" fill="url(#h_or)"/>
<circle cx="458.5" cy="449.3" r="6.7" fill="url(#f_pu)"/>
<circle cx="482.8" cy="466.1" r="5.6" fill="url(#h_pu)"/>
<path d="M482.8,466.1 L488.40,466.10 A5.6,5.6 0 0 1 481.83,471.61 Z" fill="url(#h_or)"/>
<circle cx="511.0" cy="464.0" r="5.0" fill="url(#f_gr)"/>
<circle cx="547.3" cy="437.4" r="9.5" fill="url(#h_pu)"/>
<path d="M547.3,437.4 L556.23,440.65 A9.5,9.5 0 0 1 548.95,446.76 Z" fill="url(#h_or)"/>
<path d="M547.3,437.4 L554.58,431.29 A9.5,9.5 0 0 1 556.23,440.65 Z" fill="url(#h_bl)"/>
<circle cx="597.9" cy="443.7" r="5.4" fill="#9600d6"/>
<circle cx="537.7" cy="491.1" r="8.3" fill="url(#f_or)"/>
<circle cx="566.5" cy="513.0" r="2.8" fill="#6aa6f4"/>
<circle cx="588.3" cy="525.7" r="2.8" fill="#6aa6f4"/>
<circle cx="622.6" cy="537.8" r="3.0" fill="url(#f_bl)"/>
<circle cx="603.4" cy="364.5" r="3.2" fill="#1fe0ee"/>
<circle cx="626.9" cy="367.2" r="5.6" fill="#1fe0ee"/>
<circle cx="656.1" cy="369.9" r="3.0" fill="#1fe0ee"/>
<circle cx="645.3" cy="389.6" r="3.0" fill="#6aa6f4"/>
<circle cx="583.7" cy="381.5" r="12.0" fill="#9600d6"/>
<path d="M583.7,381.5 L595.58,383.17 A12.0,12.0 0 0 1 595.11,385.21 Z" fill="#f29b1d"/>
<circle cx="607.5" cy="399.0" r="9.5" fill="#9600d6"/>
<path d="M607.5,399.0 L616.86,400.65 A9.5,9.5 0 0 1 616.43,402.25 Z" fill="#f29b1d"/>
<circle cx="574.3" cy="405.8" r="9.0" fill="#9600d6"/>
<path d="M574.3,405.8 L583.30,405.80 A9.0,9.0 0 0 1 575.08,414.77 Z" fill="#f29b1d"/>
<circle cx="661.2" cy="410.4" r="10.0" fill="#9600d6"/>
<circle cx="642.3" cy="427.4" r="11.0" fill="#9600d6"/>
<path d="M642.3,427.4 L653.30,427.40 A11.0,11.0 0 0 1 653.24,428.55 Z" fill="#f29b1d"/>
<circle cx="616.1" cy="430.6" r="5.4" fill="#9600d6"/>
<circle cx="670.1" cy="432.5" r="7.5" fill="#9600d6"/>
<circle cx="632.2" cy="453.0" r="7.0" fill="#9600d6"/>
<circle cx="653.8" cy="460.0" r="7.0" fill="#9600d6"/>
<circle cx="674.4" cy="452.5" r="6.2" fill="#9600d6"/>
<circle cx="622.5" cy="472.2" r="8.5" fill="#9600d6"/>
<circle cx="645.4" cy="474.3" r="5.5" fill="#9600d6"/>
<circle cx="660.2" cy="472.2" r="5.5" fill="#9600d6"/>
<circle cx="679.3" cy="474.3" r="5.5" fill="#9600d6"/>
<circle cx="606.3" cy="494.0" r="9.7" fill="#9600d6"/>
<circle cx="617.3" cy="511.5" r="5.4" fill="#9600d6"/>
<circle cx="437.6" cy="489.5" r="3.4" fill="#9600d6"/>
<text x="446.4" y="491.9" font-size="8.9" fill="#222"><tspan font-style="italic">O. sativa indica</tspan></text>
<circle cx="437.6" cy="499.3" r="3.4" fill="#f29b1d"/>
<text x="446.4" y="501.7" font-size="8.9" fill="#222"><tspan font-style="italic">O. sativa japonica</tspan></text>
<circle cx="437.6" cy="509.2" r="3.4" fill="#1fe0ee"/>
<text x="446.4" y="511.59999999999997" font-size="8.9" fill="#222"><tspan font-style="italic">O. rufipogon</tspan> (Or-I)</text>
<circle cx="437.6" cy="519.2" r="3.4" fill="#6aa6f4"/>
<text x="446.4" y="521.6" font-size="8.9" fill="#222"><tspan font-style="italic">O. rufipogon</tspan> (Or-II)</text>
<circle cx="437.6" cy="529.5" r="3.4" fill="#27bd4f"/>
<text x="446.4" y="531.9" font-size="8.9" fill="#222"><tspan font-style="italic">O. rufipogon</tspan> (Or-III)</text>
<circle cx="437.6" cy="540.6" r="4.0" fill="#777777"/>
<text x="446.4" y="543.0" font-size="8.9" fill="#222" textLength="32.2" lengthAdjust="spacingAndGlyphs"><tspan font-style="italic">SBRR1-R</tspan></text>
<circle cx="437.4" cy="551.6" r="4.0" fill="#757575"/>
<line x1="435.4" y1="552.8000000000001" x2="438.2" y2="549.8000000000001" stroke="#fff" stroke-width="0.6"/>
<line x1="436.6" y1="553.5" x2="439.4" y2="550.5" stroke="#fff" stroke-width="0.6"/>
<text x="446.4" y="554.0" font-size="8.9" fill="#222" textLength="32.2" lengthAdjust="spacingAndGlyphs"><tspan font-style="italic">SBRR1-S</tspan></text>
</svg></body></html>
